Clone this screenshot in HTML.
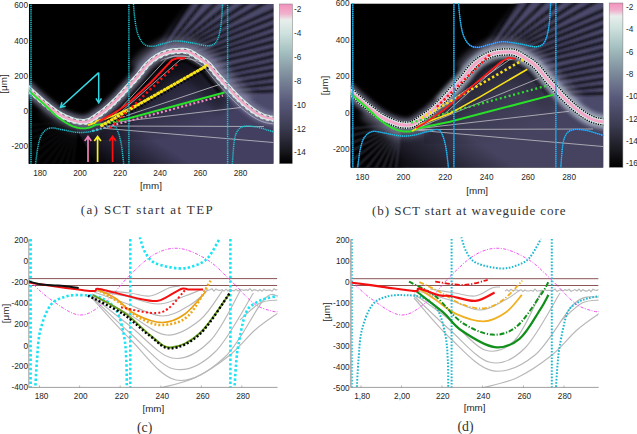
<!DOCTYPE html>
<html><head><meta charset="utf-8">
<style>
html,body{margin:0;padding:0;background:#fff;width:637px;height:434px;overflow:hidden}
svg{display:block}
.t{font-family:"Liberation Sans",sans-serif;font-size:9.8px;fill:#262626}
.cap{font-family:"Liberation Serif",serif;font-size:13px;fill:#333}
</style></head><body>
<svg width="637" height="434" viewBox="0 0 637 434">
<defs>
<filter id="b03" x="-20%" y="-20%" width="140%" height="140%"><feGaussianBlur stdDeviation="0.3"/></filter>
<filter id="b05" x="-20%" y="-20%" width="140%" height="140%"><feGaussianBlur stdDeviation="0.5"/></filter>
<filter id="b07" x="-20%" y="-20%" width="140%" height="140%"><feGaussianBlur stdDeviation="0.7"/></filter>
<filter id="b1" x="-20%" y="-20%" width="140%" height="140%"><feGaussianBlur stdDeviation="0.8"/></filter>
<filter id="b2" x="-20%" y="-20%" width="140%" height="140%"><feGaussianBlur stdDeviation="2"/></filter>
<filter id="b3" x="-20%" y="-20%" width="140%" height="140%"><feGaussianBlur stdDeviation="3"/></filter>
<filter id="b4" x="-20%" y="-20%" width="140%" height="140%"><feGaussianBlur stdDeviation="4"/></filter>
<filter id="b8" x="-50%" y="-50%" width="200%" height="200%"><feGaussianBlur stdDeviation="8"/></filter>
<linearGradient id="cmapA" x1="0" y1="0" x2="0" y2="1">
<stop offset="0" stop-color="#f490bc"/>
<stop offset="0.06" stop-color="#f0b0cc"/>
<stop offset="0.10" stop-color="#e8eeec"/>
<stop offset="0.18" stop-color="#cfe2de"/>
<stop offset="0.30" stop-color="#a4c0c0"/>
<stop offset="0.45" stop-color="#7e8c9c"/>
<stop offset="0.62" stop-color="#58587a"/>
<stop offset="0.78" stop-color="#3a3a50"/>
<stop offset="0.92" stop-color="#18181e"/>
<stop offset="1" stop-color="#000"/>
</linearGradient>
<linearGradient id="cmapB" x1="0" y1="0" x2="0" y2="1">
<stop offset="0" stop-color="#f490bc"/>
<stop offset="0.045" stop-color="#f0b0cc"/>
<stop offset="0.08" stop-color="#e8eeec"/>
<stop offset="0.15" stop-color="#cfe2de"/>
<stop offset="0.27" stop-color="#a4c0c0"/>
<stop offset="0.42" stop-color="#7e8c9c"/>
<stop offset="0.58" stop-color="#58587a"/>
<stop offset="0.75" stop-color="#3a3a50"/>
<stop offset="0.9" stop-color="#18181e"/>
<stop offset="1" stop-color="#000"/>
</linearGradient>
</defs>
<clipPath id="clipA"><rect x="28.8" y="4.0" width="244.7" height="159.8"/></clipPath>
<g clip-path="url(#clipA)">
<clipPath id="fanA"><path d="M140 76 L150 60 L203 -10 L300 -10 L300 121 L285.41 116.52 L284.35 116.4 L282.94 116.25 L281.29 116.08 L279.46 115.88 L277.52 115.67 L275.54 115.44 L273.59 115.19 L271.76 114.93 L270.12 114.66 L268.76 114.38 L267.6 114.1 L266.54 113.81 L265.6 113.51 L264.73 113.2 L263.92 112.87 L263.13 112.52 L262.34 112.14 L261.51 111.72 L260.63 111.25 L259.71 110.74 L258.77 110.21 L257.85 109.65 L256.92 109.06 L255.98 108.43 L255.03 107.76 L254.07 107.07 L253.11 106.35 L252.14 105.61 L251.17 104.85 L250.19 104.07 L249.22 103.29 L248.26 102.48 L247.29 101.65 L246.32 100.8 L245.35 99.93 L244.37 99.04 L243.4 98.13 L242.42 97.2 L241.43 96.26 L240.45 95.3 L239.48 94.34 L238.51 93.35 L237.53 92.34 L236.55 91.3 L235.56 90.25 L234.57 89.18 L233.58 88.11 L232.58 87.02 L231.58 85.93 L230.58 84.84 L229.59 83.75 L228.59 82.66 L227.6 81.56 L226.6 80.45 L225.61 79.34 L224.62 78.23 L223.62 77.11 L222.63 75.98 L221.64 74.84 L220.65 73.72 L219.69 72.58 L218.72 71.4 L217.73 70.17 L216.74 68.92 L215.73 67.66 L214.7 66.39 L213.66 65.15 L212.6 63.94 L211.52 62.77 L210.42 61.67 L209.31 60.66 L208.22 59.73 L207.13 58.87 L206.05 58.07 L204.98 57.32 L203.92 56.61 L202.89 55.94 L201.87 55.3 L200.86 54.67 L199.88 54.05 L198.89 53.42 L197.9 52.77 L196.88 52.12 L195.84 51.46 L194.77 50.82 L193.69 50.2 L192.57 49.61 L191.43 49.06 L190.24 48.57 L189.02 48.15 L187.79 47.82 L186.57 47.58 L185.38 47.42 L184.22 47.32 L183.08 47.28 L181.98 47.27 L180.91 47.29 L179.87 47.32 L178.86 47.36 L177.86 47.4 L176.84 47.44 L175.79 47.5 L174.73 47.57 L173.66 47.67 L172.59 47.78 L171.5 47.92 L170.41 48.09 L169.31 48.3 L168.2 48.54 L167.1 48.82 L166.02 49.12 L164.94 49.45 L163.86 49.81 L162.78 50.2 L161.69 50.62 L160.6 51.07 L159.52 51.56 L158.43 52.09 L157.33 52.66 L156.25 53.27 L155.19 53.89 L154.13 54.55 L153.07 55.23 L152 55.96 L150.93 56.72 L149.85 57.53 L148.78 58.4 L147.7 59.31 L146.62 60.28 L145.53 61.32 L144.43 62.46 L143.35 63.67 L142.29 64.93 L141.25 66.23 L140.23 67.54 Z"/></clipPath>
<clipPath id="lowA"><path d="M10 200 L14.57 77.4 L15.35 78.19 L16.37 79.24 L17.58 80.48 L18.94 81.88 L20.4 83.37 L21.9 84.9 L23.4 86.43 L24.85 87.89 L26.2 89.24 L27.4 90.43 L28.47 91.47 L29.48 92.43 L30.43 93.34 L31.34 94.19 L32.22 95 L33.09 95.8 L33.96 96.58 L34.83 97.36 L35.74 98.17 L36.67 99 L37.65 99.86 L38.63 100.72 L39.63 101.59 L40.64 102.46 L41.65 103.33 L42.67 104.2 L43.69 105.06 L44.71 105.91 L45.73 106.74 L46.75 107.56 L47.75 108.36 L48.75 109.17 L49.76 109.97 L50.77 110.77 L51.78 111.55 L52.8 112.33 L53.83 113.09 L54.86 113.82 L55.9 114.52 L56.94 115.19 L57.98 115.83 L59.01 116.43 L60.05 117.01 L61.08 117.55 L62.11 118.07 L63.15 118.57 L64.18 119.05 L65.2 119.5 L66.23 119.94 L67.25 120.36 L68.27 120.76 L69.29 121.15 L70.32 121.53 L71.36 121.9 L72.4 122.24 L73.45 122.56 L74.51 122.84 L75.57 123.1 L76.65 123.31 L77.72 123.48 L78.76 123.61 L79.8 123.73 L80.85 123.83 L81.92 123.89 L83 123.91 L84.1 123.89 L85.21 123.8 L86.33 123.65 L87.46 123.42 L88.61 123.11 L89.75 122.69 L90.87 122.19 L91.96 121.62 L93.04 121 L94.09 120.34 L95.12 119.65 L96.14 118.94 L97.15 118.23 L98.15 117.53 L99.14 116.84 L100.15 116.14 L101.17 115.42 L102.18 114.68 L103.2 113.93 L104.22 113.15 L105.24 112.36 L106.25 111.55 L107.27 110.73 L108.29 109.88 L109.3 109.02 L110.32 108.13 L111.34 107.23 L112.35 106.3 L113.37 105.36 L114.38 104.4 L115.39 103.43 L116.4 102.44 L117.41 101.44 L118.42 100.42 L119.43 99.39 L120.45 98.34 L121.46 97.26 L122.48 96.16 L123.48 95.05 L124.49 93.93 L125.49 92.8 L126.49 91.68 L127.49 90.56 L128.49 89.44 L129.48 88.34 L130.47 87.26 L131.47 86.18 L132.47 85.1 L133.47 84.02 L134.47 82.93 L135.48 81.84 L136.48 80.73 L137.49 79.61 L138.5 78.47 L139.52 77.3 L140.55 76.08 L141.57 74.8 L142.58 73.51 L143.58 72.2 L144.58 70.91 L145.57 69.64 L146.55 68.42 L147.51 67.27 L148.47 66.19 L149.41 65.22 L150.36 64.31 L151.32 63.45 L152.27 62.64 L153.23 61.88 L154.18 61.16 L155.14 60.47 L156.1 59.82 L157.07 59.2 L158.03 58.6 L159 58.03 L159.95 57.5 L160.9 57 L161.85 56.54 L162.8 56.11 L163.75 55.72 L164.7 55.35 L165.65 55.01 L166.61 54.69 L167.56 54.4 L168.52 54.13 L169.46 53.9 L170.4 53.69 L171.34 53.52 L172.29 53.37 L173.24 53.24 L174.19 53.14 L175.15 53.06 L176.12 52.99 L177.09 52.94 L178.08 52.9 L179.08 52.86 L180.07 52.82 L181.05 52.79 L182.01 52.77 L182.95 52.77 L183.88 52.81 L184.78 52.89 L185.67 53.01 L186.55 53.18 L187.42 53.41 L188.29 53.71 L189.19 54.09 L190.1 54.52 L191.04 55.02 L191.99 55.56 L192.95 56.14 L193.93 56.76 L194.92 57.39 L195.92 58.04 L196.93 58.69 L197.94 59.32 L198.93 59.95 L199.92 60.57 L200.9 61.21 L201.87 61.86 L202.83 62.53 L203.78 63.24 L204.73 63.99 L205.68 64.79 L206.62 65.65 L207.56 66.58 L208.51 67.61 L209.48 68.72 L210.46 69.89 L211.44 71.1 L212.44 72.35 L213.44 73.61 L214.45 74.87 L215.46 76.11 L216.48 77.3 L217.49 78.46 L218.5 79.61 L219.5 80.75 L220.5 81.88 L221.51 83.01 L222.51 84.13 L223.52 85.24 L224.52 86.35 L225.52 87.46 L226.52 88.55 L227.53 89.64 L228.53 90.74 L229.53 91.83 L230.53 92.92 L231.54 94 L232.55 95.08 L233.56 96.14 L234.57 97.19 L235.58 98.22 L236.6 99.23 L237.61 100.21 L238.62 101.18 L239.63 102.14 L240.64 103.08 L241.66 104.01 L242.67 104.92 L243.69 105.81 L244.71 106.68 L245.73 107.53 L246.75 108.36 L247.76 109.17 L248.78 109.96 L249.79 110.74 L250.82 111.5 L251.84 112.24 L252.87 112.96 L253.9 113.66 L254.94 114.32 L255.99 114.95 L257.02 115.55 L258.02 116.09 L258.96 116.59 L259.89 117.07 L260.83 117.52 L261.79 117.94 L262.79 118.34 L263.85 118.72 L264.98 119.08 L266.21 119.42 L267.57 119.75 L269.13 120.07 L270.92 120.37 L272.85 120.64 L274.87 120.9 L276.9 121.14 L278.87 121.35 L280.72 121.55 L282.37 121.72 L283.74 121.86 L284.77 121.99 L300 200 Z"/></clipPath>
<linearGradient id="wedgeA" gradientUnits="userSpaceOnUse" x1="98" y1="168" x2="128" y2="122"><stop offset="0" stop-color="#000" stop-opacity="1"/><stop offset="1" stop-color="#000" stop-opacity="0"/></linearGradient>
<rect x="28.8" y="4.0" width="244.7" height="159.8" fill="#000"/>
<g clip-path="url(#lowA)">
<linearGradient id="archA" gradientUnits="userSpaceOnUse" x1="175" y1="58" x2="205" y2="125"><stop offset="0" stop-color="#000" stop-opacity="0.75"/><stop offset="0.55" stop-color="#000" stop-opacity="0.25"/><stop offset="1" stop-color="#000" stop-opacity="0"/></linearGradient>
<rect x="0" y="60" width="300" height="120" fill="#423f60"/>
<rect x="100" y="40" width="160" height="100" fill="url(#archA)" opacity="1"/>
<path d="M0 90 L60 100 L98 168 L0 175 Z" fill="#000"/>
<rect x="0" y="60" width="300" height="120" fill="url(#wedgeA)"/>
<path d="M77.27 126.96 L64.59 230.18 M76.47 126.8 L49.9 227.35 M75.69 126.54 L35.73 222.55 M74.96 126.18 L22.34 215.88 M74.29 125.72 L9.98 207.44 M73.68 125.17 L-1.13 197.41 M73.16 124.54 L-10.77 185.97 M72.72 123.85 L-18.76 173.32 M72.38 123.11 L-24.97 159.7 M72.15 122.33 L-29.27 145.37 M72.02 121.52 L-31.58 130.59" stroke="#8484a4" stroke-width="1.5" fill="none" opacity="0.13" filter="url(#b1)"/>
<path d="M40.26 111.31 L41.32 112.17 L42.36 113.01 L43.37 113.82 L44.38 114.63 L45.4 115.45 L46.45 116.28 L47.52 117.11 L48.61 117.93 L49.72 118.76 L50.86 119.57 L52.03 120.36 L53.22 121.12 L54.39 121.84 L55.55 122.52 L56.71 123.16 L57.87 123.77 L59.01 124.35 L60.16 124.9 L61.29 125.43 L62.42 125.93 L63.54 126.4 L64.64 126.85 L65.73 127.28 L66.82 127.7 L67.95 128.12 L69.1 128.52 L70.29 128.91 L71.52 129.28 L72.78 129.63 L74.08 129.94 L75.42 130.2 L76.72 130.41 L77.92 130.56 L79.09 130.7 L80.33 130.81 L81.64 130.88 L83.01 130.91 L84.45 130.88 L85.95 130.76 L87.5 130.55 L89.09 130.23 L90.73 129.78 L92.37 129.18 L93.91 128.5 L95.34 127.76 L96.66 126.99 L97.89 126.22 L99.06 125.44 L100.15 124.68 L101.19 123.96 L102.16 123.27 L103.13 122.59 L104.17 121.88 L105.25 121.11 L106.33 120.33 L107.41 119.52 L108.49 118.7 L109.56 117.87 L110.64 117.01 L111.72 116.13 L112.79 115.24 L113.87 114.32 L114.95 113.38 L116.02 112.43 L117.09 111.46 L118.15 110.47 L119.21 109.47 L120.27 108.46 L121.32 107.43 L122.36 106.39 L123.4 105.34 L124.45 104.27 L125.52 103.16 L126.59 102.03 L127.64 100.88 L128.68 99.74 L129.71 98.59 L130.72 97.46 L131.72 96.33 L132.71 95.22 L133.69 94.12 L134.66 93.05 L135.63 91.99 L136.61 90.92 L137.61 89.85 L138.61 88.77 L139.62 87.67" stroke="#8a8aa4" stroke-width="7" fill="none" opacity="0.16" filter="url(#b3)"/>
</g>
<mask id="fmA" maskUnits="userSpaceOnUse" x="0" y="-50" width="400" height="250"><path d="M140 80 L152 55 L205 -14 L300 -14 L300 125 L285.12 119.01 L284.07 118.88 L282.68 118.74 L281.03 118.56 L279.19 118.37 L277.24 118.16 L275.23 117.92 L273.25 117.67 L271.38 117.4 L269.67 117.12 L268.22 116.82 L266.97 116.52 L265.84 116.2 L264.8 115.88 L263.85 115.54 L262.95 115.18 L262.08 114.79 L261.22 114.38 L260.35 113.93 L259.44 113.45 L258.49 112.93 L257.51 112.37 L256.53 111.78 L255.55 111.15 L254.57 110.49 L253.58 109.8 L252.59 109.08 L251.6 108.34 L250.61 107.59 L249.62 106.81 L248.63 106.02 L247.64 105.22 L246.65 104.39 L245.65 103.54 L244.66 102.67 L243.67 101.78 L242.68 100.88 L241.68 99.95 L240.69 99.01 L239.7 98.06 L238.7 97.09 L237.71 96.1 L236.72 95.09 L235.72 94.06 L234.73 93.02 L233.73 91.96 L232.73 90.88 L231.74 89.8 L230.74 88.71 L229.74 87.62 L228.74 86.52 L227.74 85.43 L226.74 84.34 L225.74 83.23 L224.74 82.12 L223.75 81.01 L222.75 79.89 L221.75 78.76 L220.75 77.63 L219.75 76.49 L218.76 75.35 L217.77 74.18 L216.78 72.97 L215.78 71.73 L214.78 70.48 L213.78 69.22 L212.77 67.98 L211.76 66.77 L210.74 65.61 L209.72 64.5 L208.69 63.48 L207.66 62.54 L206.63 61.66 L205.61 60.85 L204.58 60.1 L203.57 59.38 L202.55 58.7 L201.54 58.05 L200.53 57.41 L199.53 56.78 L198.54 56.16 L197.54 55.52 L196.54 54.87 L195.54 54.23 L194.52 53.59 L193.51 52.98 L192.48 52.39 L191.45 51.84 L190.41 51.35 L189.35 50.91 L188.29 50.54 L187.23 50.26 L186.16 50.05 L185.11 49.91 L184.06 49.82 L183.02 49.78 L181.99 49.77 L180.97 49.79 L179.96 49.82 L178.96 49.86 L177.96 49.9 L176.95 49.94 L175.94 50 L174.92 50.07 L173.9 50.15 L172.88 50.26 L171.86 50.4 L170.83 50.56 L169.8 50.75 L168.77 50.97 L167.74 51.23 L166.72 51.52 L165.7 51.83 L164.67 52.17 L163.65 52.54 L162.63 52.93 L161.6 53.36 L160.58 53.83 L159.55 54.32 L158.52 54.86 L157.5 55.43 L156.48 56.04 L155.47 56.66 L154.45 57.32 L153.43 58.01 L152.41 58.74 L151.39 59.51 L150.36 60.33 L149.34 61.19 L148.32 62.11 L147.29 63.09 L146.27 64.16 L145.24 65.31 L144.23 66.52 L143.22 67.78 L142.21 69.07 L141.21 70.37 L140.21 71.67 Z" fill="#fff" filter="url(#b3)"/></mask>
<g mask="url(#fmA)">
<rect x="100" y="-20" width="200" height="160" fill="#4c4a6a"/>
<path d="M157.92 53.11 L208.9 -30.11 M164.23 50.51 L225.81 -27.38 M168.42 49.22 L243.7 -23.86 M173.62 48.42 L261.42 -20.76 M178.62 47.95 L279.5 -17.85 M183.32 48.04 L298.01 -15.35 M187.12 48.8 L310.52 -6.31 M191.82 51.02 L311.12 3.09 M196.93 54.15 L311.57 12.28 M200.93 56.54 L312.22 22.21 M205.3 59.59 L312.68 31.32 M209.82 63.83 L312.97 39.99 M215.02 70.17 L312.89 46.66 M218.85 74.69 L313.13 54.71 M222.79 79.04 L313.39 63.05 M227.74 84.46 L313.49 70.63 M231.69 88.6 L313.77 79.68 M235.58 92.45 L313.97 89.49" stroke="#14141e" stroke-width="2.8" fill="none" opacity="1" filter="url(#b1)"/>
</g>
<path d="M110.47 125.97 L111.61 125.12 L112.75 124.25 L113.89 123.37 L115.03 122.46 L116.16 121.54 L117.3 120.59 L118.44 119.63 L119.57 118.64 L120.7 117.63 L121.83 116.61 L122.94 115.58 L124.04 114.54 L125.14 113.48 L126.23 112.42 L127.31 111.34 L128.38 110.26 L129.47 109.15 L130.6 107.98 L131.72 106.79 L132.81 105.61 L133.88 104.43 L134.93 103.26 L135.95 102.11 L136.95 100.98 L137.94 99.88 L138.9 98.81 L139.84 97.76 L140.79 96.72 L141.76 95.67 L142.74 94.6 L143.75 93.52 L144.77 92.42 L145.81 91.28 L146.86 90.13 L147.93 88.93 L149.02 87.71 L150.17 86.39 L151.37 84.95 L152.55 83.49 L153.65 82.08 L154.68 80.74 L155.65 79.48 L156.55 78.32 L157.38 77.29 L158.11 76.41 L158.74 75.71 L159.29 75.14 L159.88 74.57 L160.53 74 L161.17 73.45 L161.82 72.93 L162.47 72.44 L163.14 71.96 L163.82 71.5 L164.53 71.04 L165.27 70.59 L165.98 70.17 L166.62 69.81 L167.2 69.51 L167.79 69.22 L168.38 68.95 L168.98 68.7 L169.59 68.47 L170.21 68.25 L170.85 68.03 L171.5 67.83 L172.12 67.66 L172.66 67.52 L173.17 67.41 L173.71 67.31 L174.28 67.22 L174.89 67.14 L175.55 67.07 L176.24 67.01 L176.97 66.96 L177.75 66.92 L178.64 66.89 L179.64 66.85 L180.6 66.81 L181.42 66.78 L182.09 66.77 L182.62 66.77 L183 66.78 L183.25 66.8 L183.37 66.82 L183.38 66.82 L183.33 66.8 L183.32 66.8 L183.48 66.87 L183.81 67.03 L184.28 67.28 L184.89 67.63 L185.6 68.06 L186.42 68.58 L187.34 69.16 L188.34 69.81 L189.42 70.5 L190.48 71.18 L191.47 71.8 L192.38 72.37 L193.2 72.9 L193.96 73.41 L194.64 73.89 L195.27 74.35 L195.86 74.82 L196.42 75.29 L196.95 75.77 L197.48 76.3 L198.1 76.97 L198.83 77.81 L199.65 78.79 L200.54 79.88 L201.49 81.08 L202.5 82.35 L203.58 83.69 L204.72 85.08 L205.87 86.44 L206.95 87.68 L207.98 88.85 L209.01 90.02 L210.04 91.18 L211.06 92.33 L212.09 93.48 L213.12 94.62 L214.15 95.76 L215.18 96.89 L216.2 98 L217.2 99.1 L218.2 100.19 L219.22 101.3 L220.25 102.42 L221.3 103.55 L222.36 104.69 L223.45 105.82 L224.54 106.96" stroke="#000" stroke-width="18" fill="none" opacity="0.35" filter="url(#b4)"/>
<path d="M105.44 119.12 L106.51 118.32 L107.57 117.51 L108.64 116.69 L109.7 115.84 L110.76 114.97 L111.83 114.09 L112.89 113.19 L113.96 112.26 L115.02 111.31 L116.07 110.35 L117.13 109.38 L118.18 108.38 L119.22 107.38 L120.26 106.36 L121.3 105.33 L122.34 104.29 L123.38 103.23 L124.44 102.13 L125.49 101 L126.54 99.87 L127.57 98.73 L128.59 97.59 L129.6 96.46 L130.6 95.33 L131.6 94.22 L132.58 93.12 L133.55 92.04 L134.53 90.97 L135.51 89.91 L136.51 88.83 L137.51 87.75 L138.52 86.66 L139.53 85.55 L140.56 84.42 L141.59 83.27 L142.63 82.1 L143.7 80.87 L144.8 79.56 L145.88 78.22 L146.93 76.87 L147.94 75.55 L148.93 74.27 L149.88 73.05 L150.8 71.91 L151.68 70.86 L152.5 69.93 L153.29 69.12 L154.1 68.34 L154.93 67.59 L155.77 66.89 L156.6 66.22 L157.44 65.59 L158.28 64.99 L159.14 64.41 L160 63.85 L160.88 63.31 L161.74 62.8 L162.57 62.34 L163.37 61.92 L164.18 61.52 L164.99 61.16 L165.8 60.82 L166.62 60.5 L167.44 60.21 L168.27 59.93 L169.11 59.68 L169.93 59.45 L170.71 59.25 L171.48 59.08 L172.27 58.94 L173.07 58.81 L173.89 58.7 L174.72 58.61 L175.58 58.54 L176.46 58.48 L177.35 58.43 L178.3 58.39 L179.3 58.36 L180.28 58.31 L181.19 58.28 L182.04 58.27 L182.82 58.27 L183.53 58.3 L184.18 58.36 L184.77 58.43 L185.31 58.54 L185.81 58.67 L186.34 58.86 L186.94 59.11 L187.63 59.44 L188.38 59.84 L189.2 60.3 L190.06 60.83 L190.98 61.4 L191.94 62.02 L192.94 62.67 L193.98 63.33 L195.01 63.98 L196 64.6 L196.96 65.21 L197.88 65.8 L198.76 66.39 L199.61 66.99 L200.44 67.6 L201.25 68.24 L202.04 68.91 L202.82 69.62 L203.6 70.4 L204.42 71.29 L205.3 72.29 L206.21 73.38 L207.16 74.55 L208.14 75.78 L209.14 77.04 L210.18 78.33 L211.24 79.63 L212.32 80.89 L213.35 82.08 L214.37 83.24 L215.38 84.39 L216.39 85.53 L217.41 86.67 L218.42 87.8 L219.43 88.93 L220.45 90.05 L221.46 91.16" stroke="#000" stroke-width="7" fill="none" opacity="0.95" filter="url(#b1)"/>
<path d="M135.47 67.99 L136.45 66.71 L137.47 65.39 L138.51 64.06 L139.59 62.72 L140.7 61.38 L141.87 60.08 L143.06 58.84 L144.24 57.71 L145.4 56.67 L146.55 55.69 L147.71 54.77 L148.86 53.9 L150 53.08 L151.14 52.31 L152.27 51.59 L153.38 50.9 L154.51 50.23 L155.67 49.58 L156.85 48.97 L158.03 48.39 L159.21 47.86 L160.38 47.37 L161.56 46.92 L162.72 46.5 L163.88 46.12 L165.03 45.76 L166.2 45.44 L167.4 45.13 L168.61 44.87 L169.82 44.65 L171 44.46 L172.17 44.31 L173.32 44.18 L174.46 44.08 L175.57 44.01 L176.67 43.95 L177.72 43.91 L178.72 43.87 L179.74 43.82 L180.82 43.79 L181.96 43.77 L183.17 43.78 L184.44 43.83 L185.77 43.94 L187.15 44.13 L188.58 44.41 L190.04 44.81 L191.48 45.3 L192.85 45.87 L194.15 46.48 L195.38 47.13 L196.55 47.8 L197.67 48.48 L198.75 49.16 L199.79 49.83 L200.79 50.47 L201.76 51.09 L202.73 51.7 L203.73 52.33 L204.77 52.99 L205.85 53.69 L206.96 54.43 L208.09 55.23 L209.26 56.09 L210.43 57.02 L211.63 58.03 L212.83 59.14 L214.04 60.34 L215.21 61.59 L216.32 62.88 L217.4 64.17 L218.45 65.46 L219.47 66.74 L220.47 67.99 L221.44 69.19 L222.37 70.34 L223.31 71.43 L224.27 72.54 L225.26 73.67 L226.25 74.79 L227.23 75.9 L228.22 77.01 L229.21 78.12 L230.2 79.21 L231.18 80.3 L232.17 81.39 L233.16 82.47 L234.16 83.56 L235.16 84.66 L236.15 85.74 L237.14 86.81 L238.12 87.86 L239.09 88.9 L240.06 89.91 L241.01 90.9 L241.96 91.87 L242.91 92.81 L243.87 93.74 L244.83 94.67 L245.79 95.58 L246.75 96.47 L247.7 97.33 L248.64 98.18 L249.58 99.01" stroke="#8c8cac" stroke-width="12" fill="none" opacity="0.45" filter="url(#b3)"/>
<path d="M16 76 L16.78 76.79 L17.8 77.84 L19.01 79.09 L20.37 80.48 L21.83 81.97 L23.32 83.5 L24.82 85.02 L26.27 86.48 L27.61 87.82 L28.8 89 L29.86 90.03 L30.86 90.99 L31.8 91.88 L32.7 92.72 L33.57 93.53 L34.44 94.32 L35.29 95.09 L36.17 95.87 L37.06 96.67 L38 97.5 L38.97 98.35 L39.95 99.22 L40.94 100.08 L41.94 100.95 L42.95 101.81 L43.96 102.67 L44.97 103.52 L45.99 104.36 L47 105.19 L48 106 L49 106.8 L50 107.6 L51 108.4 L52 109.19 L53 109.97 L54 110.73 L55 111.47 L56 112.18 L57 112.86 L58 113.5 L59 114.11 L60 114.69 L61 115.25 L62 115.78 L63 116.28 L64 116.76 L65 117.23 L66 117.67 L67 118.09 L68 118.5 L69 118.9 L70 119.28 L71 119.65 L72 120 L73 120.33 L74 120.63 L75 120.91 L76 121.14 L77 121.34 L78 121.5 L79 121.63 L80 121.74 L81 121.83 L82 121.89 L83 121.91 L84 121.89 L85 121.81 L86 121.68 L87 121.48 L88 121.2 L89 120.84 L90 120.39 L91 119.87 L92 119.29 L93 118.66 L94 118 L95 117.3 L96 116.6 L97 115.89 L98 115.2 L99 114.51 L100 113.8 L101 113.07 L102 112.33 L103 111.57 L104 110.79 L105 110 L106 109.18 L107 108.35 L108 107.5 L109 106.63 L110 105.74 L111 104.83 L112 103.9 L113 102.96 L114 101.99 L115 101.02 L116 100.02 L117 99.02 L118 98 L119 96.96 L120 95.9 L121 94.81 L122 93.71 L123 92.59 L124 91.47 L125 90.35 L126 89.22 L127 88.11 L128 87 L129 85.91 L130 84.82 L131 83.74 L132 82.66 L133 81.58 L134 80.49 L135 79.39 L136 78.28 L137 77.15 L138 76 L139 74.81 L140 73.56 L141 72.28 L142 70.98 L143 69.68 L144 68.4 L145 67.15 L146 65.96 L147 64.84 L148 63.8 L149 62.84 L150 61.94 L151 61.1 L152 60.3 L153 59.54 L154 58.83 L155 58.15 L156 57.51 L157 56.89 L158 56.3 L159 55.74 L160 55.22 L161 54.73 L162 54.28 L163 53.86 L164 53.48 L165 53.12 L166 52.79 L167 52.48 L168 52.2 L169 51.95 L170 51.73 L171 51.54 L172 51.39 L173 51.26 L174 51.15 L175 51.06 L176 50.99 L177 50.94 L178 50.9 L179 50.86 L180 50.82 L181 50.79 L182 50.77 L183 50.77 L184 50.82 L185 50.9 L186 51.04 L187 51.23 L188 51.5 L189 51.84 L190 52.26 L191 52.74 L192 53.27 L193 53.84 L194 54.44 L195 55.07 L196 55.71 L197 56.36 L198 57 L199 57.63 L200 58.26 L201 58.89 L202 59.54 L203 60.21 L204 60.91 L205 61.65 L206 62.44 L207 63.29 L208 64.2 L209 65.2 L210 66.28 L211 67.42 L212 68.62 L213 69.85 L214 71.1 L215 72.36 L216 73.6 L217 74.82 L218 76 L219 77.15 L220 78.29 L221 79.42 L222 80.55 L223 81.67 L224 82.79 L225 83.9 L226 85.01 L227 86.11 L228 87.2 L229 88.29 L230 89.38 L231 90.47 L232 91.56 L233 92.64 L234 93.7 L235 94.76 L236 95.79 L237 96.81 L238 97.8 L239 98.77 L240 99.73 L241 100.68 L242 101.61 L243 102.52 L244 103.42 L245 104.3 L246 105.15 L247 105.99 L248 106.8 L249 107.59 L250 108.38 L251 109.14 L252 109.89 L253 110.61 L254 111.31 L255 111.98 L256 112.62 L257 113.23 L258 113.8 L258.97 114.33 L259.89 114.82 L260.78 115.28 L261.66 115.7 L262.56 116.1 L263.5 116.47 L264.49 116.83 L265.55 117.16 L266.72 117.49 L268 117.8 L269.49 118.1 L271.22 118.39 L273.12 118.66 L275.11 118.92 L277.12 119.15 L279.09 119.36 L280.93 119.56 L282.58 119.73 L283.96 119.88 L285 120" stroke="#9c9cc0" stroke-width="13" fill="none" opacity="0.6" filter="url(#b2)"/>
<path d="M16 76 L16.78 76.79 L17.8 77.84 L19.01 79.09 L20.37 80.48 L21.83 81.97 L23.32 83.5 L24.82 85.02 L26.27 86.48 L27.61 87.82 L28.8 89 L29.86 90.03 L30.86 90.99 L31.8 91.88 L32.7 92.72 L33.57 93.53 L34.44 94.32 L35.29 95.09 L36.17 95.87 L37.06 96.67 L38 97.5 L38.97 98.35 L39.95 99.22 L40.94 100.08 L41.94 100.95 L42.95 101.81 L43.96 102.67 L44.97 103.52 L45.99 104.36 L47 105.19 L48 106 L49 106.8 L50 107.6 L51 108.4 L52 109.19 L53 109.97 L54 110.73 L55 111.47 L56 112.18 L57 112.86 L58 113.5 L59 114.11 L60 114.69 L61 115.25 L62 115.78 L63 116.28 L64 116.76 L65 117.23 L66 117.67 L67 118.09 L68 118.5 L69 118.9 L70 119.28 L71 119.65 L72 120 L73 120.33 L74 120.63 L75 120.91 L76 121.14 L77 121.34 L78 121.5 L79 121.63 L80 121.74 L81 121.83 L82 121.89 L83 121.91 L84 121.89 L85 121.81 L86 121.68 L87 121.48 L88 121.2 L89 120.84 L90 120.39 L91 119.87 L92 119.29 L93 118.66 L94 118 L95 117.3 L96 116.6 L97 115.89 L98 115.2 L99 114.51 L100 113.8 L101 113.07 L102 112.33 L103 111.57 L104 110.79 L105 110 L106 109.18 L107 108.35 L108 107.5 L109 106.63 L110 105.74 L111 104.83 L112 103.9 L113 102.96 L114 101.99 L115 101.02 L116 100.02 L117 99.02 L118 98 L119 96.96 L120 95.9 L121 94.81 L122 93.71 L123 92.59 L124 91.47 L125 90.35 L126 89.22 L127 88.11 L128 87 L129 85.91 L130 84.82 L131 83.74 L132 82.66 L133 81.58 L134 80.49 L135 79.39 L136 78.28 L137 77.15 L138 76 L139 74.81 L140 73.56 L141 72.28 L142 70.98 L143 69.68 L144 68.4 L145 67.15 L146 65.96 L147 64.84 L148 63.8 L149 62.84 L150 61.94 L151 61.1 L152 60.3 L153 59.54 L154 58.83 L155 58.15 L156 57.51 L157 56.89 L158 56.3 L159 55.74 L160 55.22 L161 54.73 L162 54.28 L163 53.86 L164 53.48 L165 53.12 L166 52.79 L167 52.48 L168 52.2 L169 51.95 L170 51.73 L171 51.54 L172 51.39 L173 51.26 L174 51.15 L175 51.06 L176 50.99 L177 50.94 L178 50.9 L179 50.86 L180 50.82 L181 50.79 L182 50.77 L183 50.77 L184 50.82 L185 50.9 L186 51.04 L187 51.23 L188 51.5 L189 51.84 L190 52.26 L191 52.74 L192 53.27 L193 53.84 L194 54.44 L195 55.07 L196 55.71 L197 56.36 L198 57 L199 57.63 L200 58.26 L201 58.89 L202 59.54 L203 60.21 L204 60.91 L205 61.65 L206 62.44 L207 63.29 L208 64.2 L209 65.2 L210 66.28 L211 67.42 L212 68.62 L213 69.85 L214 71.1 L215 72.36 L216 73.6 L217 74.82 L218 76 L219 77.15 L220 78.29 L221 79.42 L222 80.55 L223 81.67 L224 82.79 L225 83.9 L226 85.01 L227 86.11 L228 87.2 L229 88.29 L230 89.38 L231 90.47 L232 91.56 L233 92.64 L234 93.7 L235 94.76 L236 95.79 L237 96.81 L238 97.8 L239 98.77 L240 99.73 L241 100.68 L242 101.61 L243 102.52 L244 103.42 L245 104.3 L246 105.15 L247 105.99 L248 106.8 L249 107.59 L250 108.38 L251 109.14 L252 109.89 L253 110.61 L254 111.31 L255 111.98 L256 112.62 L257 113.23 L258 113.8 L258.97 114.33 L259.89 114.82 L260.78 115.28 L261.66 115.7 L262.56 116.1 L263.5 116.47 L264.49 116.83 L265.55 117.16 L266.72 117.49 L268 117.8 L269.49 118.1 L271.22 118.39 L273.12 118.66 L275.11 118.92 L277.12 119.15 L279.09 119.36 L280.93 119.56 L282.58 119.73 L283.96 119.88 L285 120" stroke="#d8ece8" stroke-width="6" fill="none" filter="url(#b05)"/>
<path d="M16 76 L16.78 76.79 L17.8 77.84 L19.01 79.09 L20.37 80.48 L21.83 81.97 L23.32 83.5 L24.82 85.02 L26.27 86.48 L27.61 87.82 L28.8 89 L29.86 90.03 L30.86 90.99 L31.8 91.88 L32.7 92.72 L33.57 93.53 L34.44 94.32 L35.29 95.09 L36.17 95.87 L37.06 96.67 L38 97.5 L38.97 98.35 L39.95 99.22 L40.94 100.08 L41.94 100.95 L42.95 101.81 L43.96 102.67 L44.97 103.52 L45.99 104.36 L47 105.19 L48 106 L49 106.8 L50 107.6 L51 108.4 L52 109.19 L53 109.97 L54 110.73 L55 111.47 L56 112.18 L57 112.86 L58 113.5 L59 114.11 L60 114.69 L61 115.25 L62 115.78 L63 116.28 L64 116.76 L65 117.23 L66 117.67 L67 118.09 L68 118.5 L69 118.9 L70 119.28 L71 119.65 L72 120 L73 120.33 L74 120.63 L75 120.91 L76 121.14 L77 121.34 L78 121.5 L79 121.63 L80 121.74 L81 121.83 L82 121.89 L83 121.91 L84 121.89 L85 121.81 L86 121.68 L87 121.48 L88 121.2 L89 120.84 L90 120.39 L91 119.87 L92 119.29 L93 118.66 L94 118 L95 117.3 L96 116.6 L97 115.89 L98 115.2 L99 114.51 L100 113.8 L101 113.07 L102 112.33 L103 111.57 L104 110.79 L105 110 L106 109.18 L107 108.35 L108 107.5 L109 106.63 L110 105.74 L111 104.83 L112 103.9 L113 102.96 L114 101.99 L115 101.02 L116 100.02 L117 99.02 L118 98 L119 96.96 L120 95.9 L121 94.81 L122 93.71 L123 92.59 L124 91.47 L125 90.35 L126 89.22 L127 88.11 L128 87 L129 85.91 L130 84.82 L131 83.74 L132 82.66 L133 81.58 L134 80.49 L135 79.39 L136 78.28 L137 77.15 L138 76 L139 74.81 L140 73.56 L141 72.28 L142 70.98 L143 69.68 L144 68.4 L145 67.15 L146 65.96 L147 64.84 L148 63.8 L149 62.84 L150 61.94 L151 61.1 L152 60.3 L153 59.54 L154 58.83 L155 58.15 L156 57.51 L157 56.89 L158 56.3 L159 55.74 L160 55.22 L161 54.73 L162 54.28 L163 53.86 L164 53.48 L165 53.12 L166 52.79 L167 52.48 L168 52.2 L169 51.95 L170 51.73 L171 51.54 L172 51.39 L173 51.26 L174 51.15 L175 51.06 L176 50.99 L177 50.94 L178 50.9 L179 50.86 L180 50.82 L181 50.79 L182 50.77 L183 50.77 L184 50.82 L185 50.9 L186 51.04 L187 51.23 L188 51.5 L189 51.84 L190 52.26 L191 52.74 L192 53.27 L193 53.84 L194 54.44 L195 55.07 L196 55.71 L197 56.36 L198 57 L199 57.63 L200 58.26 L201 58.89 L202 59.54 L203 60.21 L204 60.91 L205 61.65 L206 62.44 L207 63.29 L208 64.2 L209 65.2 L210 66.28 L211 67.42 L212 68.62 L213 69.85 L214 71.1 L215 72.36 L216 73.6 L217 74.82 L218 76 L219 77.15 L220 78.29 L221 79.42 L222 80.55 L223 81.67 L224 82.79 L225 83.9 L226 85.01 L227 86.11 L228 87.2 L229 88.29 L230 89.38 L231 90.47 L232 91.56 L233 92.64 L234 93.7 L235 94.76 L236 95.79 L237 96.81 L238 97.8 L239 98.77 L240 99.73 L241 100.68 L242 101.61 L243 102.52 L244 103.42 L245 104.3 L246 105.15 L247 105.99 L248 106.8 L249 107.59 L250 108.38 L251 109.14 L252 109.89 L253 110.61 L254 111.31 L255 111.98 L256 112.62 L257 113.23 L258 113.8 L258.97 114.33 L259.89 114.82 L260.78 115.28 L261.66 115.7 L262.56 116.1 L263.5 116.47 L264.49 116.83 L265.55 117.16 L266.72 117.49 L268 117.8 L269.49 118.1 L271.22 118.39 L273.12 118.66 L275.11 118.92 L277.12 119.15 L279.09 119.36 L280.93 119.56 L282.58 119.73 L283.96 119.88 L285 120" stroke="#f2a8c8" stroke-width="2.5" fill="none" filter="url(#b03)"/>
<path d="M17.07 74.95 L17.85 75.75 L18.87 76.79 L20.09 78.04 L21.44 79.43 L22.9 80.92 L24.4 82.45 L25.89 83.97 L27.33 85.42 L28.67 86.76 L29.85 87.93 L30.9 88.95 L31.89 89.9 L32.83 90.79 L33.72 91.63 L34.59 92.43 L35.44 93.21 L36.3 93.98 L37.17 94.75 L38.06 95.55 L38.99 96.38 L39.96 97.23 L40.94 98.09 L41.92 98.95 L42.92 99.81 L43.92 100.67 L44.93 101.53 L45.94 102.37 L46.94 103.21 L47.94 104.03 L48.94 104.83 L49.94 105.63 L50.94 106.43 L51.93 107.23 L52.92 108.01 L53.91 108.78 L54.9 109.53 L55.88 110.25 L56.86 110.94 L57.83 111.6 L58.8 112.23 L59.77 112.82 L60.74 113.39 L61.71 113.93 L62.69 114.44 L63.66 114.94 L64.64 115.41 L65.62 115.86 L66.6 116.29 L67.58 116.71 L68.56 117.11 L69.55 117.5 L70.53 117.88 L71.51 118.24 L72.48 118.58 L73.45 118.9 L74.41 119.19 L75.37 119.45 L76.32 119.68 L77.26 119.87 L78.21 120.02 L79.18 120.14 L80.15 120.25 L81.11 120.34 L82.06 120.39 L83 120.41 L83.93 120.39 L84.84 120.32 L85.75 120.2 L86.65 120.02 L87.54 119.77 L88.44 119.45 L89.35 119.04 L90.28 118.56 L91.22 118.01 L92.18 117.4 L93.16 116.76 L94.14 116.07 L95.14 115.37 L96.14 114.67 L97.14 113.97 L98.14 113.28 L99.13 112.58 L100.11 111.86 L101.1 111.13 L102.09 110.38 L103.07 109.61 L104.06 108.83 L105.05 108.02 L106.03 107.2 L107.02 106.36 L108.01 105.5 L109 104.62 L109.99 103.72 L110.97 102.81 L111.96 101.87 L112.96 100.92 L113.95 99.95 L114.94 98.96 L115.93 97.96 L116.92 96.95 L117.91 95.93 L118.9 94.87 L119.89 93.8 L120.89 92.7 L121.88 91.59 L122.88 90.47 L123.88 89.35 L124.88 88.23 L125.88 87.1 L126.89 85.99 L127.89 84.89 L128.9 83.8 L129.9 82.72 L130.9 81.64 L131.9 80.56 L132.89 79.47 L133.89 78.38 L134.88 77.28 L135.87 76.16 L136.86 75.03 L137.84 73.86 L138.82 72.63 L139.81 71.36 L140.81 70.07 L141.81 68.76 L142.82 67.47 L143.84 66.2 L144.86 64.98 L145.9 63.82 L146.94 62.74 L147.98 61.74 L149.01 60.82 L150.05 59.94 L151.08 59.11 L152.11 58.33 L153.14 57.6 L154.17 56.9 L155.2 56.24 L156.22 55.61 L157.25 55 L158.29 54.42 L159.33 53.88 L160.36 53.37 L161.4 52.91 L162.44 52.47 L163.48 52.07 L164.51 51.7 L165.55 51.36 L166.58 51.04 L167.61 50.75 L168.66 50.49 L169.7 50.26 L170.75 50.07 L171.79 49.9 L172.82 49.77 L173.86 49.66 L174.88 49.57 L175.91 49.5 L176.93 49.44 L177.94 49.4 L178.94 49.36 L179.94 49.32 L180.96 49.29 L181.99 49.27 L183.04 49.28 L184.09 49.32 L185.16 49.41 L186.25 49.56 L187.34 49.77 L188.44 50.07 L189.53 50.44 L190.61 50.89 L191.67 51.4 L192.72 51.95 L193.76 52.54 L194.79 53.17 L195.8 53.8 L196.81 54.45 L197.81 55.1 L198.8 55.73 L199.8 56.36 L200.8 56.99 L201.81 57.63 L202.82 58.28 L203.85 58.97 L204.88 59.69 L205.91 60.46 L206.95 61.28 L207.99 62.16 L209.04 63.12 L210.08 64.16 L211.12 65.27 L212.14 66.45 L213.16 67.66 L214.17 68.91 L215.17 70.17 L216.17 71.42 L217.16 72.66 L218.15 73.86 L219.14 75.02 L220.13 76.16 L221.13 77.3 L222.12 78.43 L223.12 79.56 L224.12 80.68 L225.12 81.79 L226.11 82.9 L227.11 84 L228.11 85.1 L229.11 86.19 L230.11 87.28 L231.11 88.37 L232.1 89.46 L233.1 90.54 L234.1 91.61 L235.09 92.67 L236.08 93.72 L237.07 94.74 L238.06 95.75 L239.05 96.73 L240.04 97.7 L241.04 98.65 L242.03 99.59 L243.02 100.51 L244.01 101.41 L244.99 102.3 L245.98 103.16 L246.97 104.01 L247.95 104.83 L248.94 105.63 L249.93 106.42 L250.92 107.19 L251.9 107.94 L252.89 108.68 L253.87 109.39 L254.85 110.07 L255.82 110.73 L256.79 111.35 L257.76 111.94 L258.73 112.49 L259.68 113.01 L260.58 113.49 L261.45 113.93 L262.29 114.34 L263.14 114.72 L264.03 115.07 L264.96 115.4 L265.98 115.72 L267.09 116.03 L268.33 116.34 L269.76 116.63 L271.45 116.91 L273.32 117.18 L275.29 117.43 L277.29 117.66 L279.25 117.87 L281.09 118.07 L282.73 118.24 L284.12 118.39 L285.18 118.51" stroke="#404048" stroke-width="0.9" stroke-dasharray="2.6 3.4" fill="none" opacity="0.85"/>
<path d="M14 77.96 L14.78 78.75 L15.79 79.79 L17.01 81.04 L18.37 82.44 L19.82 83.93 L21.33 85.46 L22.83 86.99 L24.28 88.45 L25.63 89.81 L26.84 91 L27.92 92.05 L28.92 93.01 L29.88 93.92 L30.79 94.77 L31.68 95.59 L32.55 96.39 L33.42 97.17 L34.3 97.96 L35.2 98.76 L36.14 99.6 L37.12 100.46 L38.1 101.32 L39.1 102.2 L40.11 103.07 L41.13 103.94 L42.15 104.81 L43.18 105.67 L44.21 106.52 L45.23 107.36 L46.25 108.18 L47.25 108.99 L48.25 109.79 L49.26 110.6 L50.27 111.4 L51.29 112.19 L52.32 112.97 L53.36 113.73 L54.4 114.47 L55.45 115.19 L56.51 115.87 L57.57 116.52 L58.62 117.13 L59.67 117.71 L60.71 118.26 L61.76 118.79 L62.8 119.3 L63.85 119.78 L64.89 120.24 L65.92 120.68 L66.96 121.1 L67.98 121.5 L69.01 121.9 L70.05 122.28 L71.1 122.65 L72.16 123 L73.23 123.32 L74.31 123.62 L75.4 123.88 L76.51 124.1 L77.6 124.27 L78.66 124.41 L79.72 124.53 L80.79 124.62 L81.89 124.69 L83 124.71 L84.14 124.69 L85.29 124.6 L86.47 124.44 L87.65 124.2 L88.85 123.87 L90.05 123.43 L91.22 122.91 L92.35 122.33 L93.45 121.69 L94.52 121.01 L95.57 120.31 L96.6 119.6 L97.61 118.89 L98.61 118.19 L99.6 117.5 L100.61 116.8 L101.63 116.07 L102.66 115.33 L103.68 114.57 L104.71 113.79 L105.73 112.99 L106.75 112.18 L107.78 111.34 L108.8 110.49 L109.83 109.62 L110.85 108.73 L111.87 107.82 L112.89 106.89 L113.91 105.95 L114.93 104.98 L115.95 104 L116.96 103.01 L117.98 102.01 L118.99 100.99 L120.01 99.95 L121.03 98.89 L122.05 97.8 L123.07 96.7 L124.08 95.58 L125.09 94.46 L126.09 93.33 L127.09 92.21 L128.09 91.09 L129.08 89.98 L130.07 88.88 L131.06 87.8 L132.06 86.72 L133.06 85.64 L134.06 84.56 L135.06 83.47 L136.07 82.38 L137.08 81.27 L138.09 80.14 L139.1 79 L140.13 77.82 L141.16 76.58 L142.2 75.3 L143.21 74 L144.22 72.69 L145.21 71.4 L146.2 70.14 L147.17 68.93 L148.12 67.79 L149.05 66.74 L149.98 65.78 L150.9 64.9 L151.84 64.05 L152.78 63.26 L153.72 62.51 L154.66 61.8 L155.6 61.13 L156.54 60.49 L157.49 59.88 L158.45 59.29 L159.4 58.73 L160.33 58.2 L161.26 57.72 L162.19 57.27 L163.12 56.85 L164.05 56.46 L164.98 56.1 L165.91 55.76 L166.85 55.45 L167.79 55.17 L168.72 54.91 L169.64 54.67 L170.55 54.48 L171.47 54.3 L172.4 54.16 L173.33 54.04 L174.27 53.94 L175.22 53.85 L176.17 53.79 L177.13 53.74 L178.11 53.7 L179.11 53.66 L180.1 53.62 L181.07 53.59 L182.02 53.57 L182.93 53.57 L183.83 53.61 L184.69 53.68 L185.54 53.8 L186.37 53.96 L187.18 54.18 L188.01 54.46 L188.86 54.82 L189.74 55.24 L190.65 55.72 L191.58 56.25 L192.53 56.83 L193.5 57.43 L194.48 58.07 L195.48 58.71 L196.5 59.36 L197.51 60 L198.51 60.63 L199.49 61.25 L200.46 61.88 L201.42 62.52 L202.36 63.18 L203.3 63.87 L204.23 64.6 L205.15 65.39 L206.07 66.22 L206.98 67.14 L207.92 68.15 L208.87 69.24 L209.84 70.4 L210.82 71.61 L211.81 72.85 L212.81 74.11 L213.83 75.37 L214.85 76.62 L215.88 77.83 L216.89 78.99 L217.9 80.14 L218.9 81.28 L219.91 82.41 L220.91 83.54 L221.92 84.66 L222.92 85.78 L223.93 86.89 L224.93 87.99 L225.93 89.09 L226.94 90.18 L227.94 91.28 L228.94 92.37 L229.94 93.46 L230.95 94.55 L231.96 95.63 L232.98 96.69 L234 97.75 L235.02 98.78 L236.04 99.8 L237.05 100.79 L238.07 101.76 L239.08 102.72 L240.1 103.67 L241.12 104.6 L242.14 105.52 L243.17 106.41 L244.19 107.29 L245.22 108.15 L246.25 108.98 L247.27 109.79 L248.29 110.59 L249.31 111.38 L250.34 112.14 L251.38 112.89 L252.42 113.62 L253.46 114.32 L254.52 115 L255.58 115.64 L256.63 116.24 L257.64 116.79 L258.59 117.3 L259.53 117.79 L260.49 118.24 L261.48 118.68 L262.51 119.09 L263.6 119.48 L264.76 119.85 L266.01 120.2 L267.39 120.53 L268.99 120.86 L270.8 121.16 L272.75 121.44 L274.77 121.69 L276.81 121.93 L278.79 122.15 L280.64 122.34 L282.28 122.51 L283.65 122.66 L284.67 122.78" stroke="#404048" stroke-width="0.9" stroke-dasharray="2.6 3.4" fill="none" opacity="0.85"/>
<path d="M160.59 60.81 L161.48 60.31 L162.34 59.86 L163.21 59.44 L164.07 59.05 L164.94 58.69 L165.82 58.35 L166.69 58.03 L167.58 57.74 L168.46 57.47 L169.34 57.22 L170.19 57.01 L171.03 56.83 L171.88 56.67 L172.74 56.53 L173.62 56.42 L174.5 56.32 L175.4 56.25 L176.32 56.18 L177.24 56.13 L178.21 56.1 L179.21 56.06 L180.19 56.02 L181.14 55.98 L182.03 55.97 L182.88 55.97 L183.68 56.01 L184.43 56.07 L185.15 56.17 L185.82 56.3 L186.48 56.47 L187.15 56.71 L187.88 57.01 L188.66 57.38 L189.49 57.82 L190.36 58.32 L191.27 58.87 L192.21 59.46 L193.18 60.08 L194.19 60.73 L195.21 61.39 L196.23 62.03 L197.23 62.66 L198.2 63.27 L199.14 63.88 L200.06 64.5 L200.96 65.13 L201.84 65.78 L202.71 66.46 L203.56 67.19 L204.41 67.96 L205.26 68.8 L206.13 69.75 L207.05 70.8 L207.99 71.92 L208.95 73.11 L209.93 74.34 L210.94 75.61 L211.96 76.88 L213.01 78.16 L214.06 79.39 L215.08 80.57 L216.09 81.72 L217.1 82.87 L218.11 84 L219.12 85.14 L220.13 86.27 L221.14 87.39 L222.15 88.5 L223.16 89.61 L224.16 90.71 L225.17 91.8 L226.17 92.9 L227.17 93.99 L228.18 95.09 L229.2 96.18 L230.22 97.27 L231.24 98.35 L232.28 99.42 L233.32 100.48 L234.35 101.51 L235.38 102.51 L236.41 103.5 L237.44 104.47 L238.47 105.43 L239.51 106.38 L240.55 107.31 L241.59 108.23 L242.64 109.12 L243.7 110 L244.74 110.85 L245.78 111.68 L246.82 112.49 L247.86 113.29 L248.92 114.08 L249.98 114.85 L251.06 115.6 L252.15 116.33 L253.25 117.04 L254.36 117.71 L255.46 118.34 L256.5 118.9 L257.48 119.43 L258.47 119.93 L259.49 120.42 L260.54 120.89 L261.66 121.34 L262.83 121.76 L264.08 122.15 L265.41 122.52 L266.87 122.88 L268.56 123.22 L270.43 123.53 L272.43 123.81 L274.48 124.08 L276.54 124.32 L278.53 124.54 L280.39 124.73 L282.03 124.9 L283.38 125.05 L284.39 125.16" stroke="#c8c8d0" stroke-width="0.7" fill="none"/>
<path d="M111.7 118 L146.9 80 L166.5 58.8 L175 55.8 L190 56.5" stroke="#c4c2c8" stroke-width="0.8" fill="none"/>
<path d="M105 126 L157.3 80 L180 60 L186 58.2 L200 61.5" stroke="#c4c2c8" stroke-width="0.8" fill="none"/>
<path d="M100 124.5 L219.5 84.5" stroke="#c4c2c8" stroke-width="0.8" fill="none"/>
<path d="M100 124 L241 107.5" stroke="#c4c2c8" stroke-width="0.8" fill="none"/>
<path d="M100 126 L264 126.5" stroke="#c4c2c8" stroke-width="0.8" fill="none"/>
<path d="M100 128 L273.5 142.5" stroke="#c4c2c8" stroke-width="0.8" fill="none"/>
<path d="M19.66 81.18 L21.11 82.67 L22.61 84.2 L24.11 85.72 L25.56 87.19 L26.9 88.53 L28.1 89.71 L29.17 90.75 L30.17 91.71 L31.11 92.61 L32.02 93.46 L32.9 94.27 L33.76 95.06 L34.63 95.84 L35.5 96.62 L36.4 97.42 L37.34 98.25 L38.31 99.11 L39.29 99.97 L40.28 100.84 L41.27 101.73 L42.26 102.62 L43.24 103.53 L44.21 104.43 L45.18 105.34 L46.14 106.24 L47.09 107.14 L48.02 108.03 L48.94 108.93 L49.87 109.83 L50.79 110.74 L51.71 111.64 L52.64 112.54 L53.58 113.43 L54.52 114.3 L55.48 115.16 L56.44 115.99 L57.41 116.78 L58.37 117.56 L59.34 118.3 L60.32 119.03 L61.3 119.73 L62.28 120.4 L63.27 121.06 L64.26 121.69 L65.25 122.31 L66.23 122.9 L67.21 123.47 L68.21 124.03 L69.22 124.57 L70.26 125.1 L71.33 125.61 L72.43 126.09 L73.57 126.53 L74.73 126.93 L75.94 127.29 L77.13 127.58 L78.25 127.82 L79.36 128.02 L80.53 128.19 L81.74 128.32 L83.01 128.38 L84.32 128.37 L85.68 128.28 L87.08 128.09 L88.51 127.8 L89.97 127.39 L91.43 126.87 L92.83 126.25 L94.13 125.57 L95.36 124.85 L106.5 123.6 L128 118.5 L224.5 92.5" stroke="#28e028" stroke-width="1.9" fill="none"/>
<path d="M92 131 L223 95.5" stroke="#f08cc0" stroke-width="2.2" stroke-dasharray="2 2.2" fill="none"/>
<path d="M88 125.1 L94.6 122.9 L96.9 120.7 L106.5 118.5 L117.5 114 L128 108.9 L150 98.6 L208 65" stroke="#f8e018" stroke-width="1.7" fill="none"/>
<path d="M101.2 128.2 L208.7 66.9" stroke="#000" stroke-width="3.2" stroke-dasharray="1.5 2.3" fill="none"/>
<path d="M100.5 126.2 L208 65" stroke="#fae41a" stroke-width="3" stroke-dasharray="3.2 0.6" fill="none"/>
<path d="M99 121.5 L110 115.5 L119 110 L128 103.5 L150.4 83 L172 60 L177.5 58 L185 58.2" stroke="#ff1a1a" stroke-width="2" fill="none"/>
<path d="M110 128 L178 63" stroke="#ff1010" stroke-width="2.4" stroke-dasharray="2.2 2.8" fill="none"/>
<path d="M31 3 V166 M128.9 3 V166 M227.6 3 V166" stroke="#1cc4d0" stroke-width="1.5" stroke-dasharray="1.2 0.7" fill="none"/>
<path d="M133.3 2 C133.58 5 134.22 14.58 135 20 C135.78 25.42 136.5 30.5 138 34.5 C139.5 38.5 141.57 42.03 144 44 C146.43 45.97 149.15 46.43 152.6 46.3 C156.05 46.17 160.67 44.1 164.7 43.2 C168.73 42.3 171.92 40.9 176.8 40.9 C181.68 40.9 188.8 42.38 194 43.2 C199.2 44.02 204.25 46.08 208 45.8 C211.75 45.52 214.35 44.8 216.5 41.5 C218.65 38.2 219.88 32.58 220.9 26 C221.92 19.42 222.32 6 222.6 2" stroke="#1cc4d0" stroke-width="1.5" stroke-dasharray="1.2 0.7" fill="none"/>
<path d="M35.3 166 C35.82 162.4 37.17 149.88 38.4 144.4 C39.63 138.92 40.68 135.83 42.7 133.1 C44.72 130.37 47.2 128.57 50.5 128 C53.8 127.43 58.18 128.98 62.5 129.7 C66.82 130.42 72.08 131.93 76.4 132.3 C80.72 132.67 84.08 132.53 88.4 131.9 C92.72 131.27 98.12 129.45 102.3 128.5 C106.48 127.55 110.92 125.72 113.5 126.2 C116.08 126.68 116.5 128.37 117.8 131.4 C119.1 134.43 120.28 138.63 121.3 144.4 C122.32 150.17 123.47 162.4 123.9 166" stroke="#1cc4d0" stroke-width="1.5" stroke-dasharray="1.2 0.7" fill="none"/>
<path d="M232.2 166 C232.57 161.73 233.4 146.4 234.4 140.4 C235.4 134.4 236.45 132.37 238.2 130 C239.95 127.63 241.78 126.7 244.9 126.2 C248.02 125.7 253.15 126.37 256.9 127 C260.65 127.63 264.22 129.07 267.4 130 C270.58 130.93 274.57 132.17 276 132.6" stroke="#1cc4d0" stroke-width="1.5" stroke-dasharray="1.2 0.7" fill="none"/>
<path d="M98.7 72.6 L60.8 107 M98.7 72.6 L98.7 102.5" stroke="#34d8e4" stroke-width="1.5" fill="none"/>
<path d="M65.62 106.28 L60.5 107.2 L61.92 102.2 M101.46 98.39 L98.7 102.8 L95.94 98.39" stroke="#34d8e4" stroke-width="1.5" fill="none"/>
<path d="M88 162 V136.8 M84.7 141 L88 136.5 L91.3 141" stroke="#f080b8" stroke-width="1.7" fill="none" stroke-linejoin="miter"/>
<path d="M97.6 162 V136.8 M94.3 141 L97.6 136.5 L100.9 141" stroke="#f8f020" stroke-width="1.7" fill="none" stroke-linejoin="miter"/>
<path d="M112.6 162 V136.8 M109.3 141 L112.6 136.5 L115.9 141" stroke="#ff1010" stroke-width="1.7" fill="none" stroke-linejoin="miter"/>
</g>
<clipPath id="clipB"><rect x="350.7" y="3.0" width="252.6" height="164.5"/></clipPath>
<g clip-path="url(#clipB)">
<g transform="matrix(1.0329 0 0 1.0298 320.77 -0.4)">
<clipPath id="fanB"><path d="M140 76 L150 60 L203 -10 L300 -10 L300 121 L285.41 116.52 L284.35 116.4 L282.94 116.25 L281.29 116.08 L279.46 115.88 L277.52 115.67 L275.54 115.44 L273.59 115.19 L271.76 114.93 L270.12 114.66 L268.76 114.38 L267.6 114.1 L266.54 113.81 L265.6 113.51 L264.73 113.2 L263.92 112.87 L263.13 112.52 L262.34 112.14 L261.51 111.72 L260.63 111.25 L259.71 110.74 L258.77 110.21 L257.85 109.65 L256.92 109.06 L255.98 108.43 L255.03 107.76 L254.07 107.07 L253.11 106.35 L252.14 105.61 L251.17 104.85 L250.19 104.07 L249.22 103.29 L248.26 102.48 L247.29 101.65 L246.32 100.8 L245.35 99.93 L244.37 99.04 L243.4 98.13 L242.42 97.2 L241.43 96.26 L240.45 95.3 L239.48 94.34 L238.51 93.35 L237.53 92.34 L236.55 91.3 L235.56 90.25 L234.57 89.18 L233.58 88.11 L232.58 87.02 L231.58 85.93 L230.58 84.84 L229.59 83.75 L228.59 82.66 L227.6 81.56 L226.6 80.45 L225.61 79.34 L224.62 78.23 L223.62 77.11 L222.63 75.98 L221.64 74.84 L220.65 73.72 L219.69 72.58 L218.72 71.4 L217.73 70.17 L216.74 68.92 L215.73 67.66 L214.7 66.39 L213.66 65.15 L212.6 63.94 L211.52 62.77 L210.42 61.67 L209.31 60.66 L208.22 59.73 L207.13 58.87 L206.05 58.07 L204.98 57.32 L203.92 56.61 L202.89 55.94 L201.87 55.3 L200.86 54.67 L199.88 54.05 L198.89 53.42 L197.9 52.77 L196.88 52.12 L195.84 51.46 L194.77 50.82 L193.69 50.2 L192.57 49.61 L191.43 49.06 L190.24 48.57 L189.02 48.15 L187.79 47.82 L186.57 47.58 L185.38 47.42 L184.22 47.32 L183.08 47.28 L181.98 47.27 L180.91 47.29 L179.87 47.32 L178.86 47.36 L177.86 47.4 L176.84 47.44 L175.79 47.5 L174.73 47.57 L173.66 47.67 L172.59 47.78 L171.5 47.92 L170.41 48.09 L169.31 48.3 L168.2 48.54 L167.1 48.82 L166.02 49.12 L164.94 49.45 L163.86 49.81 L162.78 50.2 L161.69 50.62 L160.6 51.07 L159.52 51.56 L158.43 52.09 L157.33 52.66 L156.25 53.27 L155.19 53.89 L154.13 54.55 L153.07 55.23 L152 55.96 L150.93 56.72 L149.85 57.53 L148.78 58.4 L147.7 59.31 L146.62 60.28 L145.53 61.32 L144.43 62.46 L143.35 63.67 L142.29 64.93 L141.25 66.23 L140.23 67.54 Z"/></clipPath>
<clipPath id="lowB"><path d="M10 200 L14.57 77.4 L15.35 78.19 L16.37 79.24 L17.58 80.48 L18.94 81.88 L20.4 83.37 L21.9 84.9 L23.4 86.43 L24.85 87.89 L26.2 89.24 L27.4 90.43 L28.47 91.47 L29.48 92.43 L30.43 93.34 L31.34 94.19 L32.22 95 L33.09 95.8 L33.96 96.58 L34.83 97.36 L35.74 98.17 L36.67 99 L37.65 99.86 L38.63 100.72 L39.63 101.59 L40.64 102.46 L41.65 103.33 L42.67 104.2 L43.69 105.06 L44.71 105.91 L45.73 106.74 L46.75 107.56 L47.75 108.36 L48.75 109.17 L49.76 109.97 L50.77 110.77 L51.78 111.55 L52.8 112.33 L53.83 113.09 L54.86 113.82 L55.9 114.52 L56.94 115.19 L57.98 115.83 L59.01 116.43 L60.05 117.01 L61.08 117.55 L62.11 118.07 L63.15 118.57 L64.18 119.05 L65.2 119.5 L66.23 119.94 L67.25 120.36 L68.27 120.76 L69.29 121.15 L70.32 121.53 L71.36 121.9 L72.4 122.24 L73.45 122.56 L74.51 122.84 L75.57 123.1 L76.65 123.31 L77.72 123.48 L78.76 123.61 L79.8 123.73 L80.85 123.83 L81.92 123.89 L83 123.91 L84.1 123.89 L85.21 123.8 L86.33 123.65 L87.46 123.42 L88.61 123.11 L89.75 122.69 L90.87 122.19 L91.96 121.62 L93.04 121 L94.09 120.34 L95.12 119.65 L96.14 118.94 L97.15 118.23 L98.15 117.53 L99.14 116.84 L100.15 116.14 L101.17 115.42 L102.18 114.68 L103.2 113.93 L104.22 113.15 L105.24 112.36 L106.25 111.55 L107.27 110.73 L108.29 109.88 L109.3 109.02 L110.32 108.13 L111.34 107.23 L112.35 106.3 L113.37 105.36 L114.38 104.4 L115.39 103.43 L116.4 102.44 L117.41 101.44 L118.42 100.42 L119.43 99.39 L120.45 98.34 L121.46 97.26 L122.48 96.16 L123.48 95.05 L124.49 93.93 L125.49 92.8 L126.49 91.68 L127.49 90.56 L128.49 89.44 L129.48 88.34 L130.47 87.26 L131.47 86.18 L132.47 85.1 L133.47 84.02 L134.47 82.93 L135.48 81.84 L136.48 80.73 L137.49 79.61 L138.5 78.47 L139.52 77.3 L140.55 76.08 L141.57 74.8 L142.58 73.51 L143.58 72.2 L144.58 70.91 L145.57 69.64 L146.55 68.42 L147.51 67.27 L148.47 66.19 L149.41 65.22 L150.36 64.31 L151.32 63.45 L152.27 62.64 L153.23 61.88 L154.18 61.16 L155.14 60.47 L156.1 59.82 L157.07 59.2 L158.03 58.6 L159 58.03 L159.95 57.5 L160.9 57 L161.85 56.54 L162.8 56.11 L163.75 55.72 L164.7 55.35 L165.65 55.01 L166.61 54.69 L167.56 54.4 L168.52 54.13 L169.46 53.9 L170.4 53.69 L171.34 53.52 L172.29 53.37 L173.24 53.24 L174.19 53.14 L175.15 53.06 L176.12 52.99 L177.09 52.94 L178.08 52.9 L179.08 52.86 L180.07 52.82 L181.05 52.79 L182.01 52.77 L182.95 52.77 L183.88 52.81 L184.78 52.89 L185.67 53.01 L186.55 53.18 L187.42 53.41 L188.29 53.71 L189.19 54.09 L190.1 54.52 L191.04 55.02 L191.99 55.56 L192.95 56.14 L193.93 56.76 L194.92 57.39 L195.92 58.04 L196.93 58.69 L197.94 59.32 L198.93 59.95 L199.92 60.57 L200.9 61.21 L201.87 61.86 L202.83 62.53 L203.78 63.24 L204.73 63.99 L205.68 64.79 L206.62 65.65 L207.56 66.58 L208.51 67.61 L209.48 68.72 L210.46 69.89 L211.44 71.1 L212.44 72.35 L213.44 73.61 L214.45 74.87 L215.46 76.11 L216.48 77.3 L217.49 78.46 L218.5 79.61 L219.5 80.75 L220.5 81.88 L221.51 83.01 L222.51 84.13 L223.52 85.24 L224.52 86.35 L225.52 87.46 L226.52 88.55 L227.53 89.64 L228.53 90.74 L229.53 91.83 L230.53 92.92 L231.54 94 L232.55 95.08 L233.56 96.14 L234.57 97.19 L235.58 98.22 L236.6 99.23 L237.61 100.21 L238.62 101.18 L239.63 102.14 L240.64 103.08 L241.66 104.01 L242.67 104.92 L243.69 105.81 L244.71 106.68 L245.73 107.53 L246.75 108.36 L247.76 109.17 L248.78 109.96 L249.79 110.74 L250.82 111.5 L251.84 112.24 L252.87 112.96 L253.9 113.66 L254.94 114.32 L255.99 114.95 L257.02 115.55 L258.02 116.09 L258.96 116.59 L259.89 117.07 L260.83 117.52 L261.79 117.94 L262.79 118.34 L263.85 118.72 L264.98 119.08 L266.21 119.42 L267.57 119.75 L269.13 120.07 L270.92 120.37 L272.85 120.64 L274.87 120.9 L276.9 121.14 L278.87 121.35 L280.72 121.55 L282.37 121.72 L283.74 121.86 L284.77 121.99 L300 200 Z"/></clipPath>
<linearGradient id="wedgeB" gradientUnits="userSpaceOnUse" x1="98" y1="168" x2="128" y2="122"><stop offset="0" stop-color="#000" stop-opacity="1"/><stop offset="1" stop-color="#000" stop-opacity="0"/></linearGradient>
<rect x="28.8" y="4.0" width="244.7" height="159.8" fill="#000"/>
<g clip-path="url(#lowB)">
<linearGradient id="archB" gradientUnits="userSpaceOnUse" x1="175" y1="58" x2="205" y2="125"><stop offset="0" stop-color="#000" stop-opacity="0.75"/><stop offset="0.55" stop-color="#000" stop-opacity="0.25"/><stop offset="1" stop-color="#000" stop-opacity="0"/></linearGradient>
<rect x="0" y="60" width="300" height="120" fill="#45435f"/>
<rect x="100" y="40" width="160" height="100" fill="url(#archB)" opacity="0.5"/>
<path d="M0 90 L55 108 L80 170 L0 175 Z" fill="#000" opacity="0.92" filter="url(#b4)"/>
<rect x="0" y="60" width="300" height="120" fill="url(#wedgeB)" opacity="0.75"/>
<path d="M77.27 126.96 L64.59 230.18 M76.47 126.8 L49.9 227.35 M75.69 126.54 L35.73 222.55 M74.96 126.18 L22.34 215.88 M74.29 125.72 L9.98 207.44 M73.68 125.17 L-1.13 197.41 M73.16 124.54 L-10.77 185.97 M72.72 123.85 L-18.76 173.32 M72.38 123.11 L-24.97 159.7 M72.15 122.33 L-29.27 145.37 M72.02 121.52 L-31.58 130.59" stroke="#8484a4" stroke-width="1.5" fill="none" opacity="0.42" filter="url(#b1)"/>
<path d="M40.26 111.31 L41.32 112.17 L42.36 113.01 L43.37 113.82 L44.38 114.63 L45.4 115.45 L46.45 116.28 L47.52 117.11 L48.61 117.93 L49.72 118.76 L50.86 119.57 L52.03 120.36 L53.22 121.12 L54.39 121.84 L55.55 122.52 L56.71 123.16 L57.87 123.77 L59.01 124.35 L60.16 124.9 L61.29 125.43 L62.42 125.93 L63.54 126.4 L64.64 126.85 L65.73 127.28 L66.82 127.7 L67.95 128.12 L69.1 128.52 L70.29 128.91 L71.52 129.28 L72.78 129.63 L74.08 129.94 L75.42 130.2 L76.72 130.41 L77.92 130.56 L79.09 130.7 L80.33 130.81 L81.64 130.88 L83.01 130.91 L84.45 130.88 L85.95 130.76 L87.5 130.55 L89.09 130.23 L90.73 129.78 L92.37 129.18 L93.91 128.5 L95.34 127.76 L96.66 126.99 L97.89 126.22 L99.06 125.44 L100.15 124.68 L101.19 123.96 L102.16 123.27 L103.13 122.59 L104.17 121.88 L105.25 121.11 L106.33 120.33 L107.41 119.52 L108.49 118.7 L109.56 117.87 L110.64 117.01 L111.72 116.13 L112.79 115.24 L113.87 114.32 L114.95 113.38 L116.02 112.43 L117.09 111.46 L118.15 110.47 L119.21 109.47 L120.27 108.46 L121.32 107.43 L122.36 106.39 L123.4 105.34 L124.45 104.27 L125.52 103.16 L126.59 102.03 L127.64 100.88 L128.68 99.74 L129.71 98.59 L130.72 97.46 L131.72 96.33 L132.71 95.22 L133.69 94.12 L134.66 93.05 L135.63 91.99 L136.61 90.92 L137.61 89.85 L138.61 88.77 L139.62 87.67" stroke="#8a8aa4" stroke-width="7" fill="none" opacity="0.5" filter="url(#b3)"/>
</g>
<mask id="fmB" maskUnits="userSpaceOnUse" x="0" y="-50" width="400" height="250"><path d="M140 80 L152 55 L205 -14 L300 -14 L300 125 L285.12 119.01 L284.07 118.88 L282.68 118.74 L281.03 118.56 L279.19 118.37 L277.24 118.16 L275.23 117.92 L273.25 117.67 L271.38 117.4 L269.67 117.12 L268.22 116.82 L266.97 116.52 L265.84 116.2 L264.8 115.88 L263.85 115.54 L262.95 115.18 L262.08 114.79 L261.22 114.38 L260.35 113.93 L259.44 113.45 L258.49 112.93 L257.51 112.37 L256.53 111.78 L255.55 111.15 L254.57 110.49 L253.58 109.8 L252.59 109.08 L251.6 108.34 L250.61 107.59 L249.62 106.81 L248.63 106.02 L247.64 105.22 L246.65 104.39 L245.65 103.54 L244.66 102.67 L243.67 101.78 L242.68 100.88 L241.68 99.95 L240.69 99.01 L239.7 98.06 L238.7 97.09 L237.71 96.1 L236.72 95.09 L235.72 94.06 L234.73 93.02 L233.73 91.96 L232.73 90.88 L231.74 89.8 L230.74 88.71 L229.74 87.62 L228.74 86.52 L227.74 85.43 L226.74 84.34 L225.74 83.23 L224.74 82.12 L223.75 81.01 L222.75 79.89 L221.75 78.76 L220.75 77.63 L219.75 76.49 L218.76 75.35 L217.77 74.18 L216.78 72.97 L215.78 71.73 L214.78 70.48 L213.78 69.22 L212.77 67.98 L211.76 66.77 L210.74 65.61 L209.72 64.5 L208.69 63.48 L207.66 62.54 L206.63 61.66 L205.61 60.85 L204.58 60.1 L203.57 59.38 L202.55 58.7 L201.54 58.05 L200.53 57.41 L199.53 56.78 L198.54 56.16 L197.54 55.52 L196.54 54.87 L195.54 54.23 L194.52 53.59 L193.51 52.98 L192.48 52.39 L191.45 51.84 L190.41 51.35 L189.35 50.91 L188.29 50.54 L187.23 50.26 L186.16 50.05 L185.11 49.91 L184.06 49.82 L183.02 49.78 L181.99 49.77 L180.97 49.79 L179.96 49.82 L178.96 49.86 L177.96 49.9 L176.95 49.94 L175.94 50 L174.92 50.07 L173.9 50.15 L172.88 50.26 L171.86 50.4 L170.83 50.56 L169.8 50.75 L168.77 50.97 L167.74 51.23 L166.72 51.52 L165.7 51.83 L164.67 52.17 L163.65 52.54 L162.63 52.93 L161.6 53.36 L160.58 53.83 L159.55 54.32 L158.52 54.86 L157.5 55.43 L156.48 56.04 L155.47 56.66 L154.45 57.32 L153.43 58.01 L152.41 58.74 L151.39 59.51 L150.36 60.33 L149.34 61.19 L148.32 62.11 L147.29 63.09 L146.27 64.16 L145.24 65.31 L144.23 66.52 L143.22 67.78 L142.21 69.07 L141.21 70.37 L140.21 71.67 Z" fill="#fff" filter="url(#b3)"/></mask>
<g mask="url(#fmB)">
<rect x="100" y="-20" width="200" height="160" fill="#4c4a6a"/>
<path d="M157.92 53.11 L208.9 -30.11 M164.23 50.51 L225.81 -27.38 M168.42 49.22 L243.7 -23.86 M173.62 48.42 L261.42 -20.76 M178.62 47.95 L279.5 -17.85 M183.32 48.04 L298.01 -15.35 M187.12 48.8 L310.52 -6.31 M191.82 51.02 L311.12 3.09 M196.93 54.15 L311.57 12.28 M200.93 56.54 L312.22 22.21 M205.3 59.59 L312.68 31.32 M209.82 63.83 L312.97 39.99 M215.02 70.17 L312.89 46.66 M218.85 74.69 L313.13 54.71 M222.79 79.04 L313.39 63.05 M227.74 84.46 L313.49 70.63 M231.69 88.6 L313.77 79.68 M235.58 92.45 L313.97 89.49" stroke="#14141e" stroke-width="2.8" fill="none" opacity="1" filter="url(#b1)"/>
</g>
<path d="M110.47 125.97 L111.61 125.12 L112.75 124.25 L113.89 123.37 L115.03 122.46 L116.16 121.54 L117.3 120.59 L118.44 119.63 L119.57 118.64 L120.7 117.63 L121.83 116.61 L122.94 115.58 L124.04 114.54 L125.14 113.48 L126.23 112.42 L127.31 111.34 L128.38 110.26 L129.47 109.15 L130.6 107.98 L131.72 106.79 L132.81 105.61 L133.88 104.43 L134.93 103.26 L135.95 102.11 L136.95 100.98 L137.94 99.88 L138.9 98.81 L139.84 97.76 L140.79 96.72 L141.76 95.67 L142.74 94.6 L143.75 93.52 L144.77 92.42 L145.81 91.28 L146.86 90.13 L147.93 88.93 L149.02 87.71 L150.17 86.39 L151.37 84.95 L152.55 83.49 L153.65 82.08 L154.68 80.74 L155.65 79.48 L156.55 78.32 L157.38 77.29 L158.11 76.41 L158.74 75.71 L159.29 75.14 L159.88 74.57 L160.53 74 L161.17 73.45 L161.82 72.93 L162.47 72.44 L163.14 71.96 L163.82 71.5 L164.53 71.04 L165.27 70.59 L165.98 70.17 L166.62 69.81 L167.2 69.51 L167.79 69.22 L168.38 68.95 L168.98 68.7 L169.59 68.47 L170.21 68.25 L170.85 68.03 L171.5 67.83 L172.12 67.66 L172.66 67.52 L173.17 67.41 L173.71 67.31 L174.28 67.22 L174.89 67.14 L175.55 67.07 L176.24 67.01 L176.97 66.96 L177.75 66.92 L178.64 66.89 L179.64 66.85 L180.6 66.81 L181.42 66.78 L182.09 66.77 L182.62 66.77 L183 66.78 L183.25 66.8 L183.37 66.82 L183.38 66.82 L183.33 66.8 L183.32 66.8 L183.48 66.87 L183.81 67.03 L184.28 67.28 L184.89 67.63 L185.6 68.06 L186.42 68.58 L187.34 69.16 L188.34 69.81 L189.42 70.5 L190.48 71.18 L191.47 71.8 L192.38 72.37 L193.2 72.9 L193.96 73.41 L194.64 73.89 L195.27 74.35 L195.86 74.82 L196.42 75.29 L196.95 75.77 L197.48 76.3 L198.1 76.97 L198.83 77.81 L199.65 78.79 L200.54 79.88 L201.49 81.08 L202.5 82.35 L203.58 83.69 L204.72 85.08 L205.87 86.44 L206.95 87.68 L207.98 88.85 L209.01 90.02 L210.04 91.18 L211.06 92.33 L212.09 93.48 L213.12 94.62 L214.15 95.76 L215.18 96.89 L216.2 98 L217.2 99.1 L218.2 100.19 L219.22 101.3 L220.25 102.42 L221.3 103.55 L222.36 104.69 L223.45 105.82 L224.54 106.96" stroke="#000" stroke-width="18" fill="none" opacity="0.12" filter="url(#b4)"/>
<path d="M105.44 119.12 L106.51 118.32 L107.57 117.51 L108.64 116.69 L109.7 115.84 L110.76 114.97 L111.83 114.09 L112.89 113.19 L113.96 112.26 L115.02 111.31 L116.07 110.35 L117.13 109.38 L118.18 108.38 L119.22 107.38 L120.26 106.36 L121.3 105.33 L122.34 104.29 L123.38 103.23 L124.44 102.13 L125.49 101 L126.54 99.87 L127.57 98.73 L128.59 97.59 L129.6 96.46 L130.6 95.33 L131.6 94.22 L132.58 93.12 L133.55 92.04 L134.53 90.97 L135.51 89.91 L136.51 88.83 L137.51 87.75 L138.52 86.66 L139.53 85.55 L140.56 84.42 L141.59 83.27 L142.63 82.1 L143.7 80.87 L144.8 79.56 L145.88 78.22 L146.93 76.87 L147.94 75.55 L148.93 74.27 L149.88 73.05 L150.8 71.91 L151.68 70.86 L152.5 69.93 L153.29 69.12 L154.1 68.34 L154.93 67.59 L155.77 66.89 L156.6 66.22 L157.44 65.59 L158.28 64.99 L159.14 64.41 L160 63.85 L160.88 63.31 L161.74 62.8 L162.57 62.34 L163.37 61.92 L164.18 61.52 L164.99 61.16 L165.8 60.82 L166.62 60.5 L167.44 60.21 L168.27 59.93 L169.11 59.68 L169.93 59.45 L170.71 59.25 L171.48 59.08 L172.27 58.94 L173.07 58.81 L173.89 58.7 L174.72 58.61 L175.58 58.54 L176.46 58.48 L177.35 58.43 L178.3 58.39 L179.3 58.36 L180.28 58.31 L181.19 58.28 L182.04 58.27 L182.82 58.27 L183.53 58.3 L184.18 58.36 L184.77 58.43 L185.31 58.54 L185.81 58.67 L186.34 58.86 L186.94 59.11 L187.63 59.44 L188.38 59.84 L189.2 60.3 L190.06 60.83 L190.98 61.4 L191.94 62.02 L192.94 62.67 L193.98 63.33 L195.01 63.98 L196 64.6 L196.96 65.21 L197.88 65.8 L198.76 66.39 L199.61 66.99 L200.44 67.6 L201.25 68.24 L202.04 68.91 L202.82 69.62 L203.6 70.4 L204.42 71.29 L205.3 72.29 L206.21 73.38 L207.16 74.55 L208.14 75.78 L209.14 77.04 L210.18 78.33 L211.24 79.63 L212.32 80.89 L213.35 82.08 L214.37 83.24 L215.38 84.39 L216.39 85.53 L217.41 86.67 L218.42 87.8 L219.43 88.93 L220.45 90.05 L221.46 91.16" stroke="#000" stroke-width="7" fill="none" opacity="0.45" filter="url(#b1)"/>
<path d="M135.47 67.99 L136.45 66.71 L137.47 65.39 L138.51 64.06 L139.59 62.72 L140.7 61.38 L141.87 60.08 L143.06 58.84 L144.24 57.71 L145.4 56.67 L146.55 55.69 L147.71 54.77 L148.86 53.9 L150 53.08 L151.14 52.31 L152.27 51.59 L153.38 50.9 L154.51 50.23 L155.67 49.58 L156.85 48.97 L158.03 48.39 L159.21 47.86 L160.38 47.37 L161.56 46.92 L162.72 46.5 L163.88 46.12 L165.03 45.76 L166.2 45.44 L167.4 45.13 L168.61 44.87 L169.82 44.65 L171 44.46 L172.17 44.31 L173.32 44.18 L174.46 44.08 L175.57 44.01 L176.67 43.95 L177.72 43.91 L178.72 43.87 L179.74 43.82 L180.82 43.79 L181.96 43.77 L183.17 43.78 L184.44 43.83 L185.77 43.94 L187.15 44.13 L188.58 44.41 L190.04 44.81 L191.48 45.3 L192.85 45.87 L194.15 46.48 L195.38 47.13 L196.55 47.8 L197.67 48.48 L198.75 49.16 L199.79 49.83 L200.79 50.47 L201.76 51.09 L202.73 51.7 L203.73 52.33 L204.77 52.99 L205.85 53.69 L206.96 54.43 L208.09 55.23 L209.26 56.09 L210.43 57.02 L211.63 58.03 L212.83 59.14 L214.04 60.34 L215.21 61.59 L216.32 62.88 L217.4 64.17 L218.45 65.46 L219.47 66.74 L220.47 67.99 L221.44 69.19 L222.37 70.34 L223.31 71.43 L224.27 72.54 L225.26 73.67 L226.25 74.79 L227.23 75.9 L228.22 77.01 L229.21 78.12 L230.2 79.21 L231.18 80.3 L232.17 81.39 L233.16 82.47 L234.16 83.56 L235.16 84.66 L236.15 85.74 L237.14 86.81 L238.12 87.86 L239.09 88.9 L240.06 89.91 L241.01 90.9 L241.96 91.87 L242.91 92.81 L243.87 93.74 L244.83 94.67 L245.79 95.58 L246.75 96.47 L247.7 97.33 L248.64 98.18 L249.58 99.01" stroke="#8c8cac" stroke-width="12" fill="none" opacity="0.45" filter="url(#b3)"/>
<path d="M16 76 L16.78 76.79 L17.8 77.84 L19.01 79.09 L20.37 80.48 L21.83 81.97 L23.32 83.5 L24.82 85.02 L26.27 86.48 L27.61 87.82 L28.8 89 L29.86 90.03 L30.86 90.99 L31.8 91.88 L32.7 92.72 L33.57 93.53 L34.44 94.32 L35.29 95.09 L36.17 95.87 L37.06 96.67 L38 97.5 L38.97 98.35 L39.95 99.22 L40.94 100.08 L41.94 100.95 L42.95 101.81 L43.96 102.67 L44.97 103.52 L45.99 104.36 L47 105.19 L48 106 L49 106.8 L50 107.6 L51 108.4 L52 109.19 L53 109.97 L54 110.73 L55 111.47 L56 112.18 L57 112.86 L58 113.5 L59 114.11 L60 114.69 L61 115.25 L62 115.78 L63 116.28 L64 116.76 L65 117.23 L66 117.67 L67 118.09 L68 118.5 L69 118.9 L70 119.28 L71 119.65 L72 120 L73 120.33 L74 120.63 L75 120.91 L76 121.14 L77 121.34 L78 121.5 L79 121.63 L80 121.74 L81 121.83 L82 121.89 L83 121.91 L84 121.89 L85 121.81 L86 121.68 L87 121.48 L88 121.2 L89 120.84 L90 120.39 L91 119.87 L92 119.29 L93 118.66 L94 118 L95 117.3 L96 116.6 L97 115.89 L98 115.2 L99 114.51 L100 113.8 L101 113.07 L102 112.33 L103 111.57 L104 110.79 L105 110 L106 109.18 L107 108.35 L108 107.5 L109 106.63 L110 105.74 L111 104.83 L112 103.9 L113 102.96 L114 101.99 L115 101.02 L116 100.02 L117 99.02 L118 98 L119 96.96 L120 95.9 L121 94.81 L122 93.71 L123 92.59 L124 91.47 L125 90.35 L126 89.22 L127 88.11 L128 87 L129 85.91 L130 84.82 L131 83.74 L132 82.66 L133 81.58 L134 80.49 L135 79.39 L136 78.28 L137 77.15 L138 76 L139 74.81 L140 73.56 L141 72.28 L142 70.98 L143 69.68 L144 68.4 L145 67.15 L146 65.96 L147 64.84 L148 63.8 L149 62.84 L150 61.94 L151 61.1 L152 60.3 L153 59.54 L154 58.83 L155 58.15 L156 57.51 L157 56.89 L158 56.3 L159 55.74 L160 55.22 L161 54.73 L162 54.28 L163 53.86 L164 53.48 L165 53.12 L166 52.79 L167 52.48 L168 52.2 L169 51.95 L170 51.73 L171 51.54 L172 51.39 L173 51.26 L174 51.15 L175 51.06 L176 50.99 L177 50.94 L178 50.9 L179 50.86 L180 50.82 L181 50.79 L182 50.77 L183 50.77 L184 50.82 L185 50.9 L186 51.04 L187 51.23 L188 51.5 L189 51.84 L190 52.26 L191 52.74 L192 53.27 L193 53.84 L194 54.44 L195 55.07 L196 55.71 L197 56.36 L198 57 L199 57.63 L200 58.26 L201 58.89 L202 59.54 L203 60.21 L204 60.91 L205 61.65 L206 62.44 L207 63.29 L208 64.2 L209 65.2 L210 66.28 L211 67.42 L212 68.62 L213 69.85 L214 71.1 L215 72.36 L216 73.6 L217 74.82 L218 76 L219 77.15 L220 78.29 L221 79.42 L222 80.55 L223 81.67 L224 82.79 L225 83.9 L226 85.01 L227 86.11 L228 87.2 L229 88.29 L230 89.38 L231 90.47 L232 91.56 L233 92.64 L234 93.7 L235 94.76 L236 95.79 L237 96.81 L238 97.8 L239 98.77 L240 99.73 L241 100.68 L242 101.61 L243 102.52 L244 103.42 L245 104.3 L246 105.15 L247 105.99 L248 106.8 L249 107.59 L250 108.38 L251 109.14 L252 109.89 L253 110.61 L254 111.31 L255 111.98 L256 112.62 L257 113.23 L258 113.8 L258.97 114.33 L259.89 114.82 L260.78 115.28 L261.66 115.7 L262.56 116.1 L263.5 116.47 L264.49 116.83 L265.55 117.16 L266.72 117.49 L268 117.8 L269.49 118.1 L271.22 118.39 L273.12 118.66 L275.11 118.92 L277.12 119.15 L279.09 119.36 L280.93 119.56 L282.58 119.73 L283.96 119.88 L285 120" stroke="#9c9cc0" stroke-width="13" fill="none" opacity="0.6" filter="url(#b2)"/>
<path d="M16 76 L16.78 76.79 L17.8 77.84 L19.01 79.09 L20.37 80.48 L21.83 81.97 L23.32 83.5 L24.82 85.02 L26.27 86.48 L27.61 87.82 L28.8 89 L29.86 90.03 L30.86 90.99 L31.8 91.88 L32.7 92.72 L33.57 93.53 L34.44 94.32 L35.29 95.09 L36.17 95.87 L37.06 96.67 L38 97.5 L38.97 98.35 L39.95 99.22 L40.94 100.08 L41.94 100.95 L42.95 101.81 L43.96 102.67 L44.97 103.52 L45.99 104.36 L47 105.19 L48 106 L49 106.8 L50 107.6 L51 108.4 L52 109.19 L53 109.97 L54 110.73 L55 111.47 L56 112.18 L57 112.86 L58 113.5 L59 114.11 L60 114.69 L61 115.25 L62 115.78 L63 116.28 L64 116.76 L65 117.23 L66 117.67 L67 118.09 L68 118.5 L69 118.9 L70 119.28 L71 119.65 L72 120 L73 120.33 L74 120.63 L75 120.91 L76 121.14 L77 121.34 L78 121.5 L79 121.63 L80 121.74 L81 121.83 L82 121.89 L83 121.91 L84 121.89 L85 121.81 L86 121.68 L87 121.48 L88 121.2 L89 120.84 L90 120.39 L91 119.87 L92 119.29 L93 118.66 L94 118 L95 117.3 L96 116.6 L97 115.89 L98 115.2 L99 114.51 L100 113.8 L101 113.07 L102 112.33 L103 111.57 L104 110.79 L105 110 L106 109.18 L107 108.35 L108 107.5 L109 106.63 L110 105.74 L111 104.83 L112 103.9 L113 102.96 L114 101.99 L115 101.02 L116 100.02 L117 99.02 L118 98 L119 96.96 L120 95.9 L121 94.81 L122 93.71 L123 92.59 L124 91.47 L125 90.35 L126 89.22 L127 88.11 L128 87 L129 85.91 L130 84.82 L131 83.74 L132 82.66 L133 81.58 L134 80.49 L135 79.39 L136 78.28 L137 77.15 L138 76 L139 74.81 L140 73.56 L141 72.28 L142 70.98 L143 69.68 L144 68.4 L145 67.15 L146 65.96 L147 64.84 L148 63.8 L149 62.84 L150 61.94 L151 61.1 L152 60.3 L153 59.54 L154 58.83 L155 58.15 L156 57.51 L157 56.89 L158 56.3 L159 55.74 L160 55.22 L161 54.73 L162 54.28 L163 53.86 L164 53.48 L165 53.12 L166 52.79 L167 52.48 L168 52.2 L169 51.95 L170 51.73 L171 51.54 L172 51.39 L173 51.26 L174 51.15 L175 51.06 L176 50.99 L177 50.94 L178 50.9 L179 50.86 L180 50.82 L181 50.79 L182 50.77 L183 50.77 L184 50.82 L185 50.9 L186 51.04 L187 51.23 L188 51.5 L189 51.84 L190 52.26 L191 52.74 L192 53.27 L193 53.84 L194 54.44 L195 55.07 L196 55.71 L197 56.36 L198 57 L199 57.63 L200 58.26 L201 58.89 L202 59.54 L203 60.21 L204 60.91 L205 61.65 L206 62.44 L207 63.29 L208 64.2 L209 65.2 L210 66.28 L211 67.42 L212 68.62 L213 69.85 L214 71.1 L215 72.36 L216 73.6 L217 74.82 L218 76 L219 77.15 L220 78.29 L221 79.42 L222 80.55 L223 81.67 L224 82.79 L225 83.9 L226 85.01 L227 86.11 L228 87.2 L229 88.29 L230 89.38 L231 90.47 L232 91.56 L233 92.64 L234 93.7 L235 94.76 L236 95.79 L237 96.81 L238 97.8 L239 98.77 L240 99.73 L241 100.68 L242 101.61 L243 102.52 L244 103.42 L245 104.3 L246 105.15 L247 105.99 L248 106.8 L249 107.59 L250 108.38 L251 109.14 L252 109.89 L253 110.61 L254 111.31 L255 111.98 L256 112.62 L257 113.23 L258 113.8 L258.97 114.33 L259.89 114.82 L260.78 115.28 L261.66 115.7 L262.56 116.1 L263.5 116.47 L264.49 116.83 L265.55 117.16 L266.72 117.49 L268 117.8 L269.49 118.1 L271.22 118.39 L273.12 118.66 L275.11 118.92 L277.12 119.15 L279.09 119.36 L280.93 119.56 L282.58 119.73 L283.96 119.88 L285 120" stroke="#d8ece8" stroke-width="6" fill="none" filter="url(#b05)"/>
<path d="M16 76 L16.78 76.79 L17.8 77.84 L19.01 79.09 L20.37 80.48 L21.83 81.97 L23.32 83.5 L24.82 85.02 L26.27 86.48 L27.61 87.82 L28.8 89 L29.86 90.03 L30.86 90.99 L31.8 91.88 L32.7 92.72 L33.57 93.53 L34.44 94.32 L35.29 95.09 L36.17 95.87 L37.06 96.67 L38 97.5 L38.97 98.35 L39.95 99.22 L40.94 100.08 L41.94 100.95 L42.95 101.81 L43.96 102.67 L44.97 103.52 L45.99 104.36 L47 105.19 L48 106 L49 106.8 L50 107.6 L51 108.4 L52 109.19 L53 109.97 L54 110.73 L55 111.47 L56 112.18 L57 112.86 L58 113.5 L59 114.11 L60 114.69 L61 115.25 L62 115.78 L63 116.28 L64 116.76 L65 117.23 L66 117.67 L67 118.09 L68 118.5 L69 118.9 L70 119.28 L71 119.65 L72 120 L73 120.33 L74 120.63 L75 120.91 L76 121.14 L77 121.34 L78 121.5 L79 121.63 L80 121.74 L81 121.83 L82 121.89 L83 121.91 L84 121.89 L85 121.81 L86 121.68 L87 121.48 L88 121.2 L89 120.84 L90 120.39 L91 119.87 L92 119.29 L93 118.66 L94 118 L95 117.3 L96 116.6 L97 115.89 L98 115.2 L99 114.51 L100 113.8 L101 113.07 L102 112.33 L103 111.57 L104 110.79 L105 110 L106 109.18 L107 108.35 L108 107.5 L109 106.63 L110 105.74 L111 104.83 L112 103.9 L113 102.96 L114 101.99 L115 101.02 L116 100.02 L117 99.02 L118 98 L119 96.96 L120 95.9 L121 94.81 L122 93.71 L123 92.59 L124 91.47 L125 90.35 L126 89.22 L127 88.11 L128 87 L129 85.91 L130 84.82 L131 83.74 L132 82.66 L133 81.58 L134 80.49 L135 79.39 L136 78.28 L137 77.15 L138 76 L139 74.81 L140 73.56 L141 72.28 L142 70.98 L143 69.68 L144 68.4 L145 67.15 L146 65.96 L147 64.84 L148 63.8 L149 62.84 L150 61.94 L151 61.1 L152 60.3 L153 59.54 L154 58.83 L155 58.15 L156 57.51 L157 56.89 L158 56.3 L159 55.74 L160 55.22 L161 54.73 L162 54.28 L163 53.86 L164 53.48 L165 53.12 L166 52.79 L167 52.48 L168 52.2 L169 51.95 L170 51.73 L171 51.54 L172 51.39 L173 51.26 L174 51.15 L175 51.06 L176 50.99 L177 50.94 L178 50.9 L179 50.86 L180 50.82 L181 50.79 L182 50.77 L183 50.77 L184 50.82 L185 50.9 L186 51.04 L187 51.23 L188 51.5 L189 51.84 L190 52.26 L191 52.74 L192 53.27 L193 53.84 L194 54.44 L195 55.07 L196 55.71 L197 56.36 L198 57 L199 57.63 L200 58.26 L201 58.89 L202 59.54 L203 60.21 L204 60.91 L205 61.65 L206 62.44 L207 63.29 L208 64.2 L209 65.2 L210 66.28 L211 67.42 L212 68.62 L213 69.85 L214 71.1 L215 72.36 L216 73.6 L217 74.82 L218 76 L219 77.15 L220 78.29 L221 79.42 L222 80.55 L223 81.67 L224 82.79 L225 83.9 L226 85.01 L227 86.11 L228 87.2 L229 88.29 L230 89.38 L231 90.47 L232 91.56 L233 92.64 L234 93.7 L235 94.76 L236 95.79 L237 96.81 L238 97.8 L239 98.77 L240 99.73 L241 100.68 L242 101.61 L243 102.52 L244 103.42 L245 104.3 L246 105.15 L247 105.99 L248 106.8 L249 107.59 L250 108.38 L251 109.14 L252 109.89 L253 110.61 L254 111.31 L255 111.98 L256 112.62 L257 113.23 L258 113.8 L258.97 114.33 L259.89 114.82 L260.78 115.28 L261.66 115.7 L262.56 116.1 L263.5 116.47 L264.49 116.83 L265.55 117.16 L266.72 117.49 L268 117.8 L269.49 118.1 L271.22 118.39 L273.12 118.66 L275.11 118.92 L277.12 119.15 L279.09 119.36 L280.93 119.56 L282.58 119.73 L283.96 119.88 L285 120" stroke="#f2a8c8" stroke-width="2.5" fill="none" filter="url(#b03)"/>
</g>
<path d="M440.59 102.61 L441.62 101.57 L442.65 100.52 L443.69 99.45 L444.72 98.35 L445.75 97.24 L446.78 96.1 L447.82 94.95 L448.85 93.8 L449.88 92.64 L450.92 91.48 L451.95 90.33 L452.98 89.19 L454.01 88.07 L455.05 86.95 L456.08 85.83 L457.11 84.72 L458.15 83.61 L459.18 82.48 L460.21 81.35 L461.24 80.21 L462.28 79.05 L463.31 77.86 L464.34 76.64 L465.38 75.35 L466.41 74.03 L467.44 72.7 L468.47 71.36 L469.51 70.04 L470.54 68.75 L471.57 67.52 L472.61 66.37 L473.64 65.3 L474.67 64.32 L475.7 63.39 L476.74 62.52 L477.77 61.7 L478.8 60.92 L479.84 60.18 L480.87 59.48 L481.9 58.82 L482.94 58.19 L483.97 57.58 L485 57 L486.03 56.46 L487.07 55.96 L488.1 55.5 L489.13 55.07 L490.17 54.67 L491.2 54.3 L492.23 53.96 L493.26 53.65 L494.3 53.36 L495.33 53.1 L496.36 52.87 L497.4 52.68 L498.43 52.52 L499.46 52.38 L500.49 52.27 L501.53 52.18 L502.56 52.11 L503.59 52.06 L504.63 52.02 L505.66 51.98 L506.69 51.93 L507.72 51.9 L508.76 51.88 L509.79 51.89 L510.82 51.93 L511.86 52.02 L512.89 52.16 L513.92 52.36 L514.96 52.63 L515.99 52.99 L517.02 53.42 L518.05 53.91 L519.09 54.45 L520.12 55.04 L521.15 55.66 L522.19 56.31 L523.22 56.97 L524.25 57.64 L525.28 58.3 L526.32 58.95 L527.35 59.59 L528.38 60.25 L529.42 60.91 L530.45 61.6 L531.48 62.32 L532.51 63.09 L533.55 63.9 L534.58 64.77 L535.61 65.71 L536.65 66.74 L537.68 67.85 L538.71 69.03 L539.74 70.26 L540.78 71.53 L541.81 72.82 L542.84 74.12 L543.88 75.4 L544.91 76.65 L545.94 77.86 L546.98 79.05 L548.01 80.22 L549.04 81.39 L550.07 82.55 L551.11 83.71 L552.14 84.86 L553.17 86 L554.21 87.14 L555.24 88.27 L556.27 89.4 L557.3 90.52 L558.34 91.65 L559.37 92.77 L560.4 93.89 L561.44 95 L562.47 96.1 L563.5 97.18 L564.53 98.25 L565.57 99.29 L566.6 100.31 L567.63 101.32 L568.67 102.31 L569.7 103.28 L570.73 104.24 L571.76 105.18 L572.8 106.1 L573.83 107.01 L574.86 107.89 L575.9 108.75 L576.93 109.58 L577.96 110.4 L578.99 111.21 L580.03 111.99 L581.06 112.76 L582.09 113.51 L583.13 114.23 L584.16 114.92 L585.19 115.58 L586.23 116.2 L587.26 116.79 L588.26 117.34 L589.21 117.84 L590.13 118.31 L591.04 118.75 L591.97 119.16 L592.94 119.54 L593.96 119.91 L595.06 120.25 L596.26 120.59 L597.59 120.91 L599.13 121.22 L600.92 121.52 L602.88 121.8 L604.93 122.06 L607.01 122.3 L609.04 122.52" stroke="#c0d0d8" stroke-width="13" fill="none" opacity="0.55" filter="url(#b2)"/>
<path d="M337.3 77.86 L338.1 78.68 L339.15 79.76 L340.41 81.04 L341.81 82.48 L343.31 84.01 L344.86 85.59 L346.41 87.15 L347.9 88.66 L349.29 90.04 L350.52 91.25 L351.61 92.32 L352.64 93.3 L353.62 94.22 L354.55 95.09 L355.45 95.92 L356.34 96.73 L357.23 97.53 L358.13 98.33 L359.05 99.15 L360.02 100.01 L361.02 100.89 L362.03 101.77 L363.06 102.66 L364.09 103.56 L365.13 104.45 L366.18 105.33 L367.22 106.21 L368.27 107.07 L369.31 107.93 L370.35 108.76 L371.38 109.58 L372.41 110.41 L373.45 111.23 L374.48 112.05 L375.51 112.85 L376.55 113.63 L377.58 114.39 L378.61 115.12 L379.65 115.82 L380.68 116.48 L381.71 117.11 L382.74 117.71 L383.78 118.28 L384.81 118.83 L385.84 119.35 L386.88 119.84 L387.91 120.32 L388.94 120.77 L389.97 121.21 L391.01 121.63 L392.04 122.04 L393.07 122.44 L394.11 122.82 L395.14 123.18 L396.17 123.52 L397.2 123.83 L398.24 124.11 L399.27 124.35 L400.3 124.56 L401.34 124.72 L402.37 124.85 L403.4 124.97 L404.43 125.06 L405.47 125.12 L406.5 125.15 L407.53 125.12 L408.57 125.04 L409.6 124.9 L410.63 124.7 L411.67 124.41 L412.7 124.04 L413.73 123.58 L414.76 123.04 L415.8 122.45 L416.83 121.8 L417.86 121.11 L418.9 120.4 L419.93 119.67 L420.96 118.95 L421.99 118.23 L423.03 117.52 L424.06 116.79 L425.09 116.04 L426.13 115.28 L427.16 114.49 L428.19 113.69 L429.22 112.87 L430.26 112.04 L431.29 111.18 L432.32 110.3 L433.36 109.41 L434.39 108.49 L435.42 107.55 L436.45 106.6 L437.49 105.62 L438.52 104.63 L439.55 103.63 L440.59 102.61 L441.62 101.57 L442.65 100.52 L443.69 99.45 L444.72 98.35 L445.75 97.24 L446.78 96.1 L447.82 94.95 L448.85 93.8 L449.88 92.64 L450.92 91.48 L451.95 90.33 L452.98 89.19 L454.01 88.07 L455.05 86.95 L456.08 85.83 L457.11 84.72 L458.15 83.61 L459.18 82.48 L460.21 81.35 L461.24 80.21 L462.28 79.05 L463.31 77.86 L464.34 76.64 L465.38 75.35 L466.41 74.03 L467.44 72.7 L468.47 71.36 L469.51 70.04 L470.54 68.75 L471.57 67.52 L472.61 66.37 L473.64 65.3 L474.67 64.32 L475.7 63.39 L476.74 62.52 L477.77 61.7 L478.8 60.92 L479.84 60.18 L480.87 59.48 L481.9 58.82 L482.94 58.19 L483.97 57.58 L485 57 L486.03 56.46 L487.07 55.96 L488.1 55.5 L489.13 55.07 L490.17 54.67 L491.2 54.3 L492.23 53.96 L493.26 53.65 L494.3 53.36 L495.33 53.1 L496.36 52.87 L497.4 52.68 L498.43 52.52 L499.46 52.38 L500.49 52.27 L501.53 52.18 L502.56 52.11 L503.59 52.06 L504.63 52.02 L505.66 51.98 L506.69 51.93 L507.72 51.9 L508.76 51.88 L509.79 51.89 L510.82 51.93 L511.86 52.02 L512.89 52.16 L513.92 52.36 L514.96 52.63 L515.99 52.99 L517.02 53.42 L518.05 53.91 L519.09 54.45 L520.12 55.04 L521.15 55.66 L522.19 56.31 L523.22 56.97 L524.25 57.64 L525.28 58.3 L526.32 58.95 L527.35 59.59 L528.38 60.25 L529.42 60.91 L530.45 61.6 L531.48 62.32 L532.51 63.09 L533.55 63.9 L534.58 64.77 L535.61 65.71 L536.65 66.74 L537.68 67.85 L538.71 69.03 L539.74 70.26 L540.78 71.53 L541.81 72.82 L542.84 74.12 L543.88 75.4 L544.91 76.65 L545.94 77.86 L546.98 79.05 L548.01 80.22 L549.04 81.39 L550.07 82.55 L551.11 83.71 L552.14 84.86 L553.17 86 L554.21 87.14 L555.24 88.27 L556.27 89.4 L557.3 90.52 L558.34 91.65 L559.37 92.77 L560.4 93.89 L561.44 95 L562.47 96.1 L563.5 97.18 L564.53 98.25 L565.57 99.29 L566.6 100.31 L567.63 101.32 L568.67 102.31 L569.7 103.28 L570.73 104.24 L571.76 105.18 L572.8 106.1 L573.83 107.01 L574.86 107.89 L575.9 108.75 L576.93 109.58 L577.96 110.4 L578.99 111.21 L580.03 111.99 L581.06 112.76 L582.09 113.51 L583.13 114.23 L584.16 114.92 L585.19 115.58 L586.23 116.2 L587.26 116.79 L588.26 117.34 L589.21 117.84 L590.13 118.31 L591.04 118.75 L591.97 119.16 L592.94 119.54 L593.96 119.91 L595.06 120.25 L596.26 120.59 L597.59 120.91 L599.13 121.22 L600.92 121.52 L602.88 121.8 L604.93 122.06 L607.01 122.3 L609.04 122.52 L610.94 122.72 L612.64 122.9 L614.07 123.05 L615.15 123.18" stroke="#d4e8e6" stroke-width="7.6" fill="none" filter="url(#b07)"/>
<path d="M337.3 77.86 L338.1 78.68 L339.15 79.76 L340.41 81.04 L341.81 82.48 L343.31 84.01 L344.86 85.59 L346.41 87.15 L347.9 88.66 L349.29 90.04 L350.52 91.25 L351.61 92.32 L352.64 93.3 L353.62 94.22 L354.55 95.09 L355.45 95.92 L356.34 96.73 L357.23 97.53 L358.13 98.33 L359.05 99.15 L360.02 100.01 L361.02 100.89 L362.03 101.77 L363.06 102.66 L364.09 103.56 L365.13 104.45 L366.18 105.33 L367.22 106.21 L368.27 107.07 L369.31 107.93 L370.35 108.76 L371.38 109.58 L372.41 110.41 L373.45 111.23 L374.48 112.05 L375.51 112.85 L376.55 113.63 L377.58 114.39 L378.61 115.12 L379.65 115.82 L380.68 116.48 L381.71 117.11 L382.74 117.71 L383.78 118.28 L384.81 118.83 L385.84 119.35 L386.88 119.84 L387.91 120.32 L388.94 120.77 L389.97 121.21 L391.01 121.63 L392.04 122.04 L393.07 122.44 L394.11 122.82 L395.14 123.18 L396.17 123.52 L397.2 123.83 L398.24 124.11 L399.27 124.35 L400.3 124.56 L401.34 124.72 L402.37 124.85 L403.4 124.97 L404.43 125.06 L405.47 125.12 L406.5 125.15 L407.53 125.12 L408.57 125.04 L409.6 124.9 L410.63 124.7 L411.67 124.41 L412.7 124.04 L413.73 123.58 L414.76 123.04 L415.8 122.45 L416.83 121.8 L417.86 121.11 L418.9 120.4 L419.93 119.67 L420.96 118.95 L421.99 118.23 L423.03 117.52 L424.06 116.79 L425.09 116.04 L426.13 115.28 L427.16 114.49 L428.19 113.69 L429.22 112.87 L430.26 112.04 L431.29 111.18 L432.32 110.3 L433.36 109.41 L434.39 108.49 L435.42 107.55 L436.45 106.6 L437.49 105.62 L438.52 104.63 L439.55 103.63 L440.59 102.61 L441.62 101.57 L442.65 100.52 L443.69 99.45 L444.72 98.35 L445.75 97.24 L446.78 96.1 L447.82 94.95 L448.85 93.8 L449.88 92.64 L450.92 91.48 L451.95 90.33 L452.98 89.19 L454.01 88.07 L455.05 86.95 L456.08 85.83 L457.11 84.72 L458.15 83.61 L459.18 82.48 L460.21 81.35 L461.24 80.21 L462.28 79.05 L463.31 77.86 L464.34 76.64 L465.38 75.35 L466.41 74.03 L467.44 72.7 L468.47 71.36 L469.51 70.04 L470.54 68.75 L471.57 67.52 L472.61 66.37 L473.64 65.3 L474.67 64.32 L475.7 63.39 L476.74 62.52 L477.77 61.7 L478.8 60.92 L479.84 60.18 L480.87 59.48 L481.9 58.82 L482.94 58.19 L483.97 57.58 L485 57 L486.03 56.46 L487.07 55.96 L488.1 55.5 L489.13 55.07 L490.17 54.67 L491.2 54.3 L492.23 53.96 L493.26 53.65 L494.3 53.36 L495.33 53.1 L496.36 52.87 L497.4 52.68 L498.43 52.52 L499.46 52.38 L500.49 52.27 L501.53 52.18 L502.56 52.11 L503.59 52.06 L504.63 52.02 L505.66 51.98 L506.69 51.93 L507.72 51.9 L508.76 51.88 L509.79 51.89 L510.82 51.93 L511.86 52.02 L512.89 52.16 L513.92 52.36 L514.96 52.63 L515.99 52.99 L517.02 53.42 L518.05 53.91 L519.09 54.45 L520.12 55.04 L521.15 55.66 L522.19 56.31 L523.22 56.97 L524.25 57.64 L525.28 58.3 L526.32 58.95 L527.35 59.59 L528.38 60.25 L529.42 60.91 L530.45 61.6 L531.48 62.32 L532.51 63.09 L533.55 63.9 L534.58 64.77 L535.61 65.71 L536.65 66.74 L537.68 67.85 L538.71 69.03 L539.74 70.26 L540.78 71.53 L541.81 72.82 L542.84 74.12 L543.88 75.4 L544.91 76.65 L545.94 77.86 L546.98 79.05 L548.01 80.22 L549.04 81.39 L550.07 82.55 L551.11 83.71 L552.14 84.86 L553.17 86 L554.21 87.14 L555.24 88.27 L556.27 89.4 L557.3 90.52 L558.34 91.65 L559.37 92.77 L560.4 93.89 L561.44 95 L562.47 96.1 L563.5 97.18 L564.53 98.25 L565.57 99.29 L566.6 100.31 L567.63 101.32 L568.67 102.31 L569.7 103.28 L570.73 104.24 L571.76 105.18 L572.8 106.1 L573.83 107.01 L574.86 107.89 L575.9 108.75 L576.93 109.58 L577.96 110.4 L578.99 111.21 L580.03 111.99 L581.06 112.76 L582.09 113.51 L583.13 114.23 L584.16 114.92 L585.19 115.58 L586.23 116.2 L587.26 116.79 L588.26 117.34 L589.21 117.84 L590.13 118.31 L591.04 118.75 L591.97 119.16 L592.94 119.54 L593.96 119.91 L595.06 120.25 L596.26 120.59 L597.59 120.91 L599.13 121.22 L600.92 121.52 L602.88 121.8 L604.93 122.06 L607.01 122.3 L609.04 122.52 L610.94 122.72 L612.64 122.9 L614.07 123.05 L615.15 123.18" stroke="#f4a6c8" stroke-width="3" fill="none" filter="url(#b03)"/>
<path d="M339.51 75.69 L340.31 76.51 L341.37 77.59 L342.62 78.88 L344.03 80.31 L345.53 81.84 L347.07 83.41 L348.61 84.97 L350.09 86.47 L351.47 87.84 L352.68 89.03 L353.77 90.08 L354.78 91.05 L355.74 91.96 L356.65 92.81 L357.54 93.63 L358.42 94.43 L359.29 95.22 L360.19 96.01 L361.11 96.83 L362.07 97.68 L363.06 98.56 L364.07 99.44 L365.09 100.32 L366.11 101.2 L367.14 102.09 L368.18 102.96 L369.21 103.83 L370.24 104.68 L371.26 105.52 L372.29 106.34 L373.32 107.16 L374.35 107.99 L375.37 108.8 L376.39 109.6 L377.4 110.38 L378.4 111.14 L379.39 111.87 L380.38 112.57 L381.35 113.23 L382.32 113.85 L383.29 114.45 L384.27 115.01 L385.25 115.55 L386.23 116.07 L387.21 116.57 L388.2 117.04 L389.18 117.49 L390.17 117.93 L391.16 118.35 L392.16 118.75 L393.16 119.15 L394.17 119.53 L395.16 119.9 L396.13 120.24 L397.1 120.56 L398.06 120.85 L399 121.1 L399.93 121.32 L400.85 121.51 L401.77 121.65 L402.74 121.78 L403.71 121.89 L404.66 121.97 L405.59 122.03 L406.5 122.05 L407.38 122.02 L408.24 121.96 L409.09 121.85 L409.91 121.68 L410.73 121.46 L411.54 121.16 L412.39 120.79 L413.27 120.33 L414.2 119.79 L415.15 119.19 L416.12 118.55 L417.12 117.86 L418.15 117.14 L419.19 116.41 L420.23 115.68 L421.25 114.98 L422.26 114.27 L423.26 113.54 L424.27 112.8 L425.27 112.03 L426.28 111.25 L427.29 110.46 L428.29 109.64 L429.3 108.8 L430.3 107.95 L431.31 107.08 L432.32 106.18 L433.33 105.27 L434.34 104.33 L435.35 103.38 L436.37 102.41 L437.38 101.42 L438.4 100.41 L439.42 99.39 L440.43 98.36 L441.44 97.31 L442.45 96.24 L443.47 95.14 L444.49 94.02 L445.51 92.88 L446.54 91.73 L447.57 90.58 L448.61 89.42 L449.65 88.26 L450.69 87.1 L451.73 85.97 L452.77 84.84 L453.81 83.72 L454.84 82.61 L455.87 81.5 L456.89 80.39 L457.92 79.27 L458.94 78.14 L459.95 77 L460.96 75.85 L461.95 74.67 L462.95 73.43 L463.96 72.13 L464.99 70.8 L466.03 69.46 L467.08 68.11 L468.15 66.79 L469.23 65.5 L470.34 64.26 L471.46 63.1 L472.57 62.04 L473.67 61.05 L474.77 60.12 L475.87 59.24 L476.97 58.42 L478.07 57.64 L479.16 56.9 L480.25 56.2 L481.34 55.53 L482.42 54.89 L483.53 54.27 L484.64 53.69 L485.76 53.15 L486.87 52.65 L487.98 52.19 L489.09 51.76 L490.19 51.37 L491.29 51 L492.39 50.67 L493.5 50.36 L494.62 50.08 L495.75 49.83 L496.87 49.62 L497.99 49.45 L499.1 49.31 L500.2 49.19 L501.29 49.09 L502.37 49.02 L503.45 48.96 L504.5 48.92 L505.54 48.88 L506.58 48.84 L507.64 48.8 L508.74 48.78 L509.86 48.79 L511.02 48.84 L512.19 48.94 L513.4 49.1 L514.62 49.34 L515.86 49.67 L517.09 50.09 L518.28 50.58 L519.44 51.14 L520.58 51.74 L521.69 52.37 L522.78 53.02 L523.84 53.69 L524.89 54.36 L525.93 55.03 L526.94 55.68 L527.96 56.32 L529 56.97 L530.05 57.63 L531.12 58.32 L532.2 59.04 L533.29 59.81 L534.4 60.62 L535.51 61.5 L536.63 62.44 L537.75 63.47 L538.87 64.58 L539.98 65.77 L541.07 67.01 L542.14 68.29 L543.19 69.58 L544.23 70.89 L545.26 72.18 L546.28 73.44 L547.29 74.66 L548.29 75.84 L549.31 77 L550.33 78.17 L551.36 79.33 L552.39 80.49 L553.42 81.64 L554.44 82.78 L555.47 83.92 L556.5 85.05 L557.53 86.18 L558.55 87.3 L559.59 88.43 L560.62 89.55 L561.65 90.67 L562.68 91.78 L563.7 92.88 L564.72 93.97 L565.74 95.03 L566.75 96.08 L567.76 97.1 L568.77 98.1 L569.78 99.09 L570.8 100.06 L571.82 101.02 L572.83 101.96 L573.84 102.88 L574.85 103.78 L575.86 104.66 L576.86 105.52 L577.86 106.35 L578.87 107.16 L579.88 107.96 L580.89 108.75 L581.89 109.52 L582.89 110.26 L583.89 110.98 L584.88 111.67 L585.86 112.33 L586.83 112.95 L587.79 113.53 L588.77 114.08 L589.73 114.61 L590.64 115.09 L591.5 115.53 L592.34 115.93 L593.17 116.3 L594.03 116.64 L594.94 116.97 L595.94 117.28 L597.04 117.59 L598.26 117.88 L599.69 118.17 L601.39 118.45 L603.29 118.73 L605.31 118.98 L607.36 119.22 L609.37 119.44 L611.26 119.64 L612.97 119.81 L614.41 119.97 L615.51 120.1" stroke="#000" stroke-width="1.3" stroke-dasharray="1.3 1.1" fill="none"/>
<path d="M335.09 80.04 L335.89 80.85 L336.94 81.93 L338.19 83.21 L339.6 84.65 L341.1 86.18 L342.65 87.76 L344.2 89.34 L345.7 90.85 L347.1 92.24 L348.35 93.47 L349.46 94.55 L350.51 95.55 L351.49 96.48 L352.44 97.36 L353.36 98.21 L354.26 99.03 L355.16 99.83 L356.07 100.65 L357 101.47 L357.97 102.33 L358.97 103.22 L360 104.11 L361.03 105.01 L362.07 105.91 L363.12 106.81 L364.18 107.7 L365.24 108.59 L366.3 109.47 L367.36 110.33 L368.41 111.18 L369.45 112.01 L370.48 112.83 L371.52 113.66 L372.57 114.49 L373.63 115.31 L374.69 116.11 L375.77 116.9 L376.85 117.67 L377.94 118.41 L379.03 119.11 L380.13 119.78 L381.22 120.41 L382.3 121.01 L383.39 121.58 L384.47 122.13 L385.56 122.65 L386.63 123.15 L387.71 123.62 L388.79 124.07 L389.85 124.51 L390.92 124.93 L391.98 125.34 L393.06 125.73 L394.14 126.11 L395.24 126.47 L396.35 126.81 L397.47 127.11 L398.61 127.38 L399.76 127.61 L400.9 127.79 L402 127.93 L403.09 128.05 L404.21 128.15 L405.34 128.22 L406.5 128.25 L407.69 128.22 L408.89 128.13 L410.11 127.96 L411.35 127.71 L412.6 127.37 L413.86 126.91 L415.08 126.37 L416.25 125.76 L417.4 125.1 L418.51 124.4 L419.6 123.68 L420.67 122.94 L421.71 122.21 L422.74 121.49 L423.76 120.78 L424.8 120.06 L425.86 119.31 L426.92 118.54 L427.98 117.76 L429.04 116.95 L430.1 116.13 L431.16 115.29 L432.22 114.43 L433.28 113.55 L434.34 112.66 L435.4 111.74 L436.46 110.8 L437.52 109.84 L438.57 108.86 L439.62 107.87 L440.68 106.86 L441.73 105.84 L442.77 104.8 L443.82 103.75 L444.87 102.68 L445.93 101.59 L446.98 100.47 L448.04 99.33 L449.08 98.18 L450.12 97.02 L451.16 95.86 L452.2 94.7 L453.22 93.55 L454.25 92.41 L455.27 91.28 L456.3 90.16 L457.32 89.05 L458.35 87.94 L459.39 86.83 L460.42 85.71 L461.46 84.58 L462.51 83.44 L463.55 82.28 L464.6 81.1 L465.66 79.88 L466.74 78.61 L467.8 77.28 L468.86 75.94 L469.9 74.59 L470.92 73.26 L471.94 71.96 L472.94 70.72 L473.92 69.55 L474.88 68.48 L475.82 67.5 L476.78 66.59 L477.74 65.73 L478.7 64.91 L479.67 64.15 L480.64 63.42 L481.6 62.73 L482.58 62.07 L483.55 61.45 L484.53 60.84 L485.51 60.27 L486.47 59.73 L487.43 59.23 L488.38 58.77 L489.33 58.34 L490.29 57.94 L491.25 57.57 L492.21 57.23 L493.17 56.91 L494.13 56.62 L495.09 56.35 L496.04 56.11 L496.97 55.91 L497.92 55.74 L498.87 55.59 L499.83 55.46 L500.79 55.36 L501.77 55.27 L502.75 55.21 L503.74 55.16 L504.75 55.11 L505.78 55.07 L506.81 55.03 L507.81 55 L508.77 54.98 L509.72 54.99 L510.63 55.02 L511.52 55.1 L512.38 55.22 L513.22 55.38 L514.05 55.6 L514.89 55.89 L515.76 56.25 L516.66 56.68 L517.6 57.17 L518.55 57.72 L519.53 58.31 L520.53 58.93 L521.54 59.58 L522.58 60.25 L523.62 60.92 L524.67 61.57 L525.7 62.22 L526.72 62.86 L527.72 63.5 L528.7 64.16 L529.67 64.84 L530.63 65.55 L531.59 66.3 L532.53 67.1 L533.48 67.96 L534.42 68.89 L535.38 69.93 L536.36 71.05 L537.35 72.24 L538.37 73.48 L539.39 74.76 L540.42 76.05 L541.47 77.36 L542.53 78.64 L543.6 79.89 L544.64 81.09 L545.68 82.27 L546.72 83.45 L547.76 84.61 L548.8 85.78 L549.84 86.93 L550.87 88.08 L551.91 89.23 L552.95 90.37 L553.99 91.5 L555.02 92.62 L556.05 93.75 L557.09 94.87 L558.13 96 L559.17 97.12 L560.22 98.23 L561.27 99.33 L562.32 100.41 L563.37 101.48 L564.43 102.53 L565.48 103.55 L566.53 104.55 L567.58 105.54 L568.63 106.52 L569.69 107.48 L570.75 108.43 L571.8 109.35 L572.87 110.26 L573.93 111.14 L574.99 112 L576.05 112.84 L577.1 113.66 L578.16 114.47 L579.23 115.26 L580.3 116.04 L581.38 116.79 L582.46 117.51 L583.56 118.21 L584.66 118.88 L585.75 119.5 L586.79 120.07 L587.77 120.59 L588.75 121.09 L589.75 121.57 L590.77 122.02 L591.84 122.45 L592.97 122.85 L594.18 123.23 L595.48 123.59 L596.92 123.94 L598.57 124.27 L600.45 124.58 L602.46 124.87 L604.56 125.14 L606.67 125.38 L608.71 125.6 L610.62 125.8 L612.32 125.98 L613.73 126.13 L614.79 126.25" stroke="#000" stroke-width="1.3" stroke-dasharray="1.3 1.1" fill="none"/>
<path d="M440 118 L505 60 L512 58" stroke="#c4c2c8" stroke-width="0.8" fill="none"/>
<path d="M426 118 L509.2 60 L514 58.5" stroke="#c4c2c8" stroke-width="0.8" fill="none"/>
<path d="M415 129 L538.8 78.4" stroke="#c4c2c8" stroke-width="0.8" fill="none"/>
<path d="M415 129 L569 111.3" stroke="#c4c2c8" stroke-width="0.8" fill="none"/>
<path d="M415 129.5 L593 129" stroke="#c4c2c8" stroke-width="0.8" fill="none"/>
<path d="M415 130 L605 146.7" stroke="#c4c2c8" stroke-width="0.8" fill="none"/>
<path d="M339.55 81.88 L340.95 83.32 L342.46 84.85 L344.01 86.43 L345.56 88 L347.05 89.5 L348.44 90.89 L349.68 92.11 L350.78 93.18 L351.82 94.17 L352.79 95.09 L353.73 95.97 L354.64 96.8 L355.53 97.62 L356.42 98.42 L357.33 99.23 L358.26 100.05 L359.23 100.91 L360.23 101.79 L361.24 102.68 L362.27 103.58 L363.29 104.49 L364.31 105.42 L365.32 106.35 L366.33 107.28 L367.33 108.21 L368.33 109.14 L369.3 110.06 L370.27 110.98 L371.23 111.9 L372.18 112.83 L373.14 113.76 L374.1 114.69 L375.06 115.61 L376.04 116.53 L377.02 117.42 L378.01 118.3 L379.01 119.15 L380.02 119.96 L381.02 120.75 L382.03 121.51 L383.04 122.25 L384.06 122.96 L385.08 123.65 L386.11 124.32 L387.13 124.96 L388.16 125.58 L389.19 126.18 L390.21 126.75 L391.24 127.32 L392.29 127.86 L393.37 128.39 L394.48 128.9 L395.62 129.37 L396.79 129.81 L397.99 130.21 L399.24 130.55 L400.46 130.83 L401.62 131.05 L402.77 131.24 L403.97 131.4 L405.21 131.5 L406.51 131.54 L407.85 131.51 L409.24 131.41 L410.66 131.22 L412.11 130.92 L413.6 130.51 L418.5 128.2 L450 121.8 L553.8 94.6" stroke="#28e028" stroke-width="2" fill="none"/>
<path d="M411 122.7 L548 85.4" stroke="#30e030" stroke-width="2.2" stroke-dasharray="2 2.6" fill="none"/>
<path d="M412 131 L415.7 129.1 L420.3 124.5 L450 113.5 L480 96.9 L527.3 69.2" stroke="#f8e018" stroke-width="1.6" fill="none"/>
<path d="M421.2 118 L525 58.8" stroke="#f8e018" stroke-width="2.6" stroke-dasharray="2.4 2.4" fill="none"/>
<path d="M416 128 L424 123.6 L443.8 110 L480 79.6 L500 62.8 L508.3 57.6 L516 58.8" stroke="#ff1a1a" stroke-width="1.7" fill="none"/>
<path d="M436.9 106.8 L490.4 54.2" stroke="#ff1010" stroke-width="2.4" stroke-dasharray="2.2 2.6" fill="none"/>
<g transform="matrix(1.0329 0 0 1.0298 320.77 -0.4)">
<path d="M31 3 V166 M128.9 3 V166 M227.6 3 V166" stroke="#1e78e8" stroke-width="1.2" fill="none" opacity="0.9"/>
<path d="M133.3 2 C133.58 5 134.22 14.58 135 20 C135.78 25.42 136.5 30.5 138 34.5 C139.5 38.5 141.57 42.03 144 44 C146.43 45.97 149.15 46.43 152.6 46.3 C156.05 46.17 160.67 44.1 164.7 43.2 C168.73 42.3 171.92 40.9 176.8 40.9 C181.68 40.9 188.8 42.38 194 43.2 C199.2 44.02 204.25 46.08 208 45.8 C211.75 45.52 214.35 44.8 216.5 41.5 C218.65 38.2 219.88 32.58 220.9 26 C221.92 19.42 222.32 6 222.6 2" stroke="#1e78e8" stroke-width="1.2" fill="none" opacity="0.9"/>
<path d="M35.3 166 C35.82 162.4 37.17 149.88 38.4 144.4 C39.63 138.92 40.68 135.83 42.7 133.1 C44.72 130.37 47.2 128.57 50.5 128 C53.8 127.43 58.18 128.98 62.5 129.7 C66.82 130.42 72.08 131.93 76.4 132.3 C80.72 132.67 84.08 132.53 88.4 131.9 C92.72 131.27 98.12 129.45 102.3 128.5 C106.48 127.55 110.92 125.72 113.5 126.2 C116.08 126.68 116.5 128.37 117.8 131.4 C119.1 134.43 120.28 138.63 121.3 144.4 C122.32 150.17 123.47 162.4 123.9 166" stroke="#1e78e8" stroke-width="1.2" fill="none" opacity="0.9"/>
<path d="M232.2 166 C232.57 161.73 233.4 146.4 234.4 140.4 C235.4 134.4 236.45 132.37 238.2 130 C239.95 127.63 241.78 126.7 244.9 126.2 C248.02 125.7 253.15 126.37 256.9 127 C260.65 127.63 264.22 129.07 267.4 130 C270.58 130.93 274.57 132.17 276 132.6" stroke="#1e78e8" stroke-width="1.2" fill="none" opacity="0.9"/>
<path d="M31 3 V166 M128.9 3 V166 M227.6 3 V166" stroke="#20d0d8" stroke-width="1.3" stroke-dasharray="1 1" fill="none"/>
<path d="M133.3 2 C133.58 5 134.22 14.58 135 20 C135.78 25.42 136.5 30.5 138 34.5 C139.5 38.5 141.57 42.03 144 44 C146.43 45.97 149.15 46.43 152.6 46.3 C156.05 46.17 160.67 44.1 164.7 43.2 C168.73 42.3 171.92 40.9 176.8 40.9 C181.68 40.9 188.8 42.38 194 43.2 C199.2 44.02 204.25 46.08 208 45.8 C211.75 45.52 214.35 44.8 216.5 41.5 C218.65 38.2 219.88 32.58 220.9 26 C221.92 19.42 222.32 6 222.6 2" stroke="#20d0d8" stroke-width="1.3" stroke-dasharray="1 1" fill="none"/>
<path d="M35.3 166 C35.82 162.4 37.17 149.88 38.4 144.4 C39.63 138.92 40.68 135.83 42.7 133.1 C44.72 130.37 47.2 128.57 50.5 128 C53.8 127.43 58.18 128.98 62.5 129.7 C66.82 130.42 72.08 131.93 76.4 132.3 C80.72 132.67 84.08 132.53 88.4 131.9 C92.72 131.27 98.12 129.45 102.3 128.5 C106.48 127.55 110.92 125.72 113.5 126.2 C116.08 126.68 116.5 128.37 117.8 131.4 C119.1 134.43 120.28 138.63 121.3 144.4 C122.32 150.17 123.47 162.4 123.9 166" stroke="#20d0d8" stroke-width="1.3" stroke-dasharray="1 1" fill="none"/>
<path d="M232.2 166 C232.57 161.73 233.4 146.4 234.4 140.4 C235.4 134.4 236.45 132.37 238.2 130 C239.95 127.63 241.78 126.7 244.9 126.2 C248.02 125.7 253.15 126.37 256.9 127 C260.65 127.63 264.22 129.07 267.4 130 C270.58 130.93 274.57 132.17 276 132.6" stroke="#20d0d8" stroke-width="1.3" stroke-dasharray="1 1" fill="none"/>
</g>
</g>
<clipPath id="clipC"><rect x="28.8" y="237.3" width="248.6" height="150.1"/></clipPath>
<g clip-path="url(#clipC)">
<path d="M100 290 C105 290.5 121.67 292 130 293 C138.33 294 143.33 296.92 150 296 C156.67 295.08 165 289.17 170 287.5 C175 285.83 178.33 286.25 180 286" stroke="#b8b8b8" stroke-width="1.15" fill="none"/>
<path d="M96 291 C100.83 291.83 114.67 293.83 125 296 C135.33 298.17 148 304 158 304 C168 304 178 298.33 185 296 C192 293.67 197.5 291 200 290" stroke="#b8b8b8" stroke-width="1.15" fill="none"/>
<path d="M94 292 C99.17 293.83 113.67 299 125 303 C136.33 307 151.17 315.67 162 316 C172.83 316.33 182.33 309.33 190 305 C197.67 300.67 205 292.5 208 290" stroke="#b8b8b8" stroke-width="1.15" fill="none"/>
<path d="M92 294 C98.33 297.5 117.5 308.17 130 315 C142.5 321.83 155.33 334.17 167 335 C178.67 335.83 190.68 327.5 200 320 C209.32 312.5 219.08 295 222.9 290" stroke="#b8b8b8" stroke-width="1.15" fill="none"/>
<path d="M92 296 C98.33 301 116.67 315.67 130 326 C143.33 336.33 158.67 355.5 172 358 C185.33 360.5 198.55 352.33 210 341 C221.45 329.67 235.58 298.5 240.7 290" stroke="#b8b8b8" stroke-width="1.15" fill="none"/>
<path d="M92 297 C98.33 303 116.33 321 130 333 C143.67 345 159.83 365.83 174 369 C188.17 372.17 201.77 364.67 215 352 C228.23 339.33 247 302.83 253.4 293" stroke="#b8b8b8" stroke-width="1.15" fill="none"/>
<path d="M92 298 C98.33 304.83 116 325.33 130 339 C144 352.67 160.17 377 176 380 C191.83 383 210.42 370.33 225 357 C239.58 343.67 254.67 310.17 263.5 300 C272.33 289.83 275.58 296.67 278 296" stroke="#b8b8b8" stroke-width="1.15" fill="none"/>
<path d="M160 388 C165.83 386.28 183.33 383.2 195 377.7 C206.67 372.2 220 362.95 230 355 C240 347.05 247 337 255 330 C263 323 274.17 315.83 278 313" stroke="#b8b8b8" stroke-width="1.15" fill="none"/>
<path d="M200 290.23 L202 289.28 L204 290.62 L206 289.57 L208 290.33 L210 289.73 L212 288.81 L214 291.19 L216 288.97 L218 290.17 L220 290.5 L222 289.63 L224 291.06 L226 289.17 L228 290.88 L230 289.16 L232 290.17 L234 290.85 L236 289.32 L238 291.09 L240 289.54 L242 289.82 L244 290.39 L246 289.63 L248 290.5 L250 288.65 L252 291.05 L254 289.71 L256 290.1 L258 291 L260 289.49 L262 291.28 L264 289.32 L266 290.54 L268 290.18 L270 289.92 L272 291.24 L274 288.77 L276 290.05 L278 289.57" stroke="#b8b8b8" stroke-width="1.15" fill="none"/>
<path d="M240 320 C243.33 317.17 253.67 306.33 260 303 C266.33 299.67 275 300.5 278 300" stroke="#b8b8b8" stroke-width="1.15" fill="none"/>
<path d="M28.8 278.6 H277.4 M28.8 285.5 H277.4" stroke="#8a5555" stroke-width="1" fill="none"/>
<path d="M28.8 280 C32.33 283.17 41.53 293.17 50 299 C58.47 304.83 70.43 314.5 79.6 315 C88.77 315.5 96.6 308.67 105 302 C113.4 295.33 121.67 283 130 275 C138.33 267 146.67 258.42 155 254 C163.33 249.58 171.17 247.45 180 248.5 C188.83 249.55 199.53 254.95 208 260.3 C216.47 265.65 223.18 273.42 230.8 280.6 C238.42 287.78 246.93 298.33 253.7 303.4 C260.47 308.47 267.02 309.65 271.4 311 C275.78 312.35 278.57 311.42 280 311.5" stroke="#f040f0" stroke-width="0.9" stroke-dasharray="3 1.5 1 1.5" fill="none"/>
<path d="M30.6 239 V388 M130.3 239 V388 M230.4 239 V388" stroke="#18e4f4" stroke-width="2.6" stroke-dasharray="2.4 2.2" fill="none"/>
<path d="M35.2 390 C35.5 385 36.17 369.87 37 360 C37.83 350.13 37.97 339.9 40.2 330.8 C42.43 321.7 46.17 311.12 50.4 305.4 C54.63 299.68 60.1 298.2 65.6 296.5 C71.1 294.8 77.48 294.98 83.4 295.2 C89.32 295.42 95.6 295.25 101.1 297.8 C106.6 300.35 112.58 304.17 116.4 310.5 C120.22 316.83 122.35 327.55 124 335.8 C125.65 344.05 125.83 350.97 126.3 360 C126.77 369.03 126.72 385 126.8 390" stroke="#18e4f4" stroke-width="2.6" stroke-dasharray="2.4 2.2" fill="none"/>
<path d="M139.8 237 C140.67 239.5 142.47 247.67 145 252 C147.53 256.33 149.33 260.27 155 263 C160.67 265.73 172.28 268 179 268.4 C185.72 268.8 190.47 267.17 195.3 265.4 C200.13 263.63 203.98 262.2 208 257.8 C212.02 253.4 217.5 242.13 219.4 239" stroke="#18e4f4" stroke-width="2.6" stroke-dasharray="2.4 2.2" fill="none"/>
<path d="M234.4 390 C234.67 385.83 235.33 372.5 236 365 C236.67 357.5 236.77 353.67 238.4 345 C240.03 336.33 242.88 320.03 245.8 313 C248.72 305.97 252.48 305.23 255.9 302.8 C259.32 300.37 262.28 299.57 266.3 298.4 C270.32 297.23 277.72 296.23 280 295.8" stroke="#18e4f4" stroke-width="2.6" stroke-dasharray="2.4 2.2" fill="none"/>
<path d="M96 289 C99.17 290.5 108.5 293.83 115 298 C121.5 302.17 127.1 309.92 135 314 C142.9 318.08 154.07 322.5 162.4 322.5 C170.73 322.5 177.82 319.08 185 314 C192.18 308.92 202.08 295.67 205.5 292" stroke="#e8a010" stroke-width="1.6" fill="none"/>
<path d="M100 291 C103.33 293 113.33 298.5 120 303 C126.67 307.5 133 314.33 140 318 C147 321.67 154 325.33 162 325 C170 324.67 179.9 323.4 188 316 C196.1 308.6 206.83 286.5 210.6 280.6" stroke="#f0a818" stroke-width="2.6" stroke-dasharray="2 2" fill="none"/>
<path d="M121 307.3 C126.07 308.23 143.57 312.67 151.4 312.9 C159.23 313.13 162.15 312.82 168 308.7 C173.85 304.58 183.42 291.62 186.5 288.2" stroke="#ff1010" stroke-width="2" stroke-dasharray="2 2.2" fill="none"/>
<path d="M92.8 295 C98.13 298 115.27 306.33 124.8 313 C134.33 319.67 142.35 329.27 150 335 C157.65 340.73 162.37 347.73 170.7 347.4 C179.03 347.07 190.18 342.02 200 333 C209.82 323.98 224.67 299.92 229.6 293.3" stroke="#6aa020" stroke-width="2" fill="none"/>
<path d="M88 295.6 C93.83 298.67 112.67 307.27 123 314 C133.33 320.73 142.05 330.27 150 336 C157.95 341.73 162.37 348.73 170.7 348.4 C179.03 348.07 190.18 343.18 200 334 C209.82 324.82 224.67 300.08 229.6 293.3" stroke="#000" stroke-width="2.4" stroke-dasharray="2 2" fill="none"/>
<path d="M28.5 282.5 C34.2 283.32 51.98 285.97 62.7 287.4 C73.42 288.83 87 290.88 92.8 291.1 C98.6 291.32 94.05 288.48 97.5 288.7 C100.95 288.92 106.37 290.68 113.5 292.4 C120.63 294.12 133.07 297.57 140.3 299 C147.53 300.43 152.28 301.45 156.9 301 C161.52 300.55 163.85 298.33 168 296.3 C172.15 294.27 178.47 289.93 181.8 288.8 C185.13 287.67 185.7 289.4 188 289.5 C190.3 289.6 193.1 289.4 195.6 289.4 C198.1 289.4 201.77 289.48 203 289.5" stroke="#f41010" stroke-width="2" fill="none"/>
<path d="M28.5 281.2 C30.42 281.72 35.08 283.58 40 284.3 C44.92 285.02 53 285.1 58 285.5 C63 285.9 66.55 286.28 70 286.7 C73.45 287.12 77.25 287.78 78.7 288" stroke="#101010" stroke-width="2" fill="none"/>
</g>
<line x1="28.8" y1="239.3" x2="28.8" y2="387.6" stroke="#888" stroke-width="0.8"/>
<line x1="28.8" y1="387.4" x2="277.5" y2="387.4" stroke="#888" stroke-width="0.8"/>
<path d="M39.5 387.4 V385.5 M79.6 387.4 V385.5 M120.2 387.4 V385.5 M160.8 387.4 V385.5 M201.3 387.4 V385.5 M241.8 387.4 V385.5" stroke="#888" stroke-width="0.6"/>
<clipPath id="clipD"><rect x="350.6" y="237.3" width="248" height="150.1"/></clipPath>
<g clip-path="url(#clipD)">
<path d="M430 289 C434.17 289.67 447.5 291.83 455 293 C462.5 294.17 468.83 296.83 475 296 C481.17 295.17 487.83 289.5 492 288 C496.17 286.5 498.67 287.17 500 287" stroke="#b8b8b8" stroke-width="1.15" fill="none"/>
<path d="M418 291 C423.33 292.5 439.67 296.83 450 300 C460.33 303.17 470.83 310 480 310 C489.17 310 498.33 303.33 505 300 C511.67 296.67 517.5 291.67 520 290" stroke="#b8b8b8" stroke-width="1.15" fill="none"/>
<path d="M414 294 C420 298.33 438.17 310.67 450 320 C461.83 329.33 474.17 346.67 485 350 C495.83 353.33 505.5 350 515 340 C524.5 330 537.5 298.33 542 290" stroke="#b8b8b8" stroke-width="1.15" fill="none"/>
<path d="M414 296 C420 301.67 437.33 318.95 450 330 C462.67 341.05 477.5 359.3 490 362.3 C502.5 365.3 513.33 359.55 525 348 C536.67 336.45 554.17 302.17 560 293" stroke="#b8b8b8" stroke-width="1.15" fill="none"/>
<path d="M414 298 C420 304.67 437 325.9 450 338 C463 350.1 477.83 367.77 492 370.6 C506.17 373.43 521.17 366.27 535 355 C548.83 343.73 564.17 312.67 575 303 C585.83 293.33 595.83 298 600 297" stroke="#b8b8b8" stroke-width="1.15" fill="none"/>
<path d="M482 388 C487.83 386.28 505.33 383.2 517 377.7 C528.67 372.2 542 362.95 552 355 C562 347.05 569 337 577 330 C585 323 596.17 315.83 600 313" stroke="#b8b8b8" stroke-width="1.15" fill="none"/>
<path d="M505 290.93 L507 289.75 L509 291.19 L511 289.27 L513 290.93 L515 289.9 L517 289.96 L519 290.94 L521 289.63 L523 291.56 L525 289.96 L527 291 L529 290.97 L531 290.29 L533 291.29 L535 289.15 L537 291.23 L539 290.76 L541 290.46 L543 291.04 L545 289.76 L547 290.67 L549 290.27 L551 290.4 L553 290.44 L555 289.08 L557 291.52 L559 290.22 L561 290.15 L563 290.73 L565 289.72 L567 290.62 L569 289.26 L571 291.24 L573 290.48 L575 289.59 L577 290.98 L579 288.99 L581 291.34 L583 289.54 L585 290.94 L587 291.12 L589 289.71 L591 291.69 L593 289.32 L595 290.29 L597 290.32 L599 289.42" stroke="#b8b8b8" stroke-width="1.15" fill="none"/>
<path d="M562 320 C565.33 317.17 575.67 306.33 582 303 C588.33 299.67 597 300.5 600 300" stroke="#b8b8b8" stroke-width="1.15" fill="none"/>
<path d="M350.6 278.7 H598.6 M350.6 285.5 H598.6" stroke="#8a5555" stroke-width="1" fill="none"/>
<path d="M350.3 280 C353.83 283.17 363.03 293.17 371.5 299 C379.97 304.83 391.93 314.5 401.1 315 C410.27 315.5 418.1 308.67 426.5 302 C434.9 295.33 443.17 283 451.5 275 C459.83 267 468.17 258.42 476.5 254 C484.83 249.58 492.67 247.45 501.5 248.5 C510.33 249.55 521.03 254.95 529.5 260.3 C537.97 265.65 544.68 273.42 552.3 280.6 C559.92 287.78 568.43 298.33 575.2 303.4 C581.97 308.47 588.52 309.65 592.9 311 C597.28 312.35 600.07 311.42 601.5 311.5" stroke="#f040f0" stroke-width="0.9" stroke-dasharray="3 1.5 1 1.5" fill="none"/>
<path d="M351.8 239 V388 M451.6 239 V388 M551.8 239 V388" stroke="#1cb8d0" stroke-width="2" stroke-dasharray="1.6 1.6" fill="none"/>
<path d="M356.7 390 C357 385 357.67 369.87 358.5 360 C359.33 350.13 359.47 339.9 361.7 330.8 C363.93 321.7 367.67 311.12 371.9 305.4 C376.13 299.68 381.6 298.2 387.1 296.5 C392.6 294.8 398.98 294.98 404.9 295.2 C410.82 295.42 417.1 295.25 422.6 297.8 C428.1 300.35 434.08 304.17 437.9 310.5 C441.72 316.83 443.85 327.55 445.5 335.8 C447.15 344.05 447.33 350.97 447.8 360 C448.27 369.03 448.22 385 448.3 390" stroke="#1cb8d0" stroke-width="2" stroke-dasharray="1.6 1.6" fill="none"/>
<path d="M461.3 237 C462.17 239.5 463.97 247.67 466.5 252 C469.03 256.33 470.83 260.27 476.5 263 C482.17 265.73 493.78 268 500.5 268.4 C507.22 268.8 511.97 267.17 516.8 265.4 C521.63 263.63 525.48 262.2 529.5 257.8 C533.52 253.4 539 242.13 540.9 239" stroke="#1cb8d0" stroke-width="2" stroke-dasharray="1.6 1.6" fill="none"/>
<path d="M555.9 390 C556.17 385.83 556.83 372.5 557.5 365 C558.17 357.5 558.27 353.67 559.9 345 C561.53 336.33 564.38 320.03 567.3 313 C570.22 305.97 573.98 305.23 577.4 302.8 C580.82 300.37 583.78 299.57 587.8 298.4 C591.82 297.23 599.22 296.23 601.5 295.8" stroke="#1cb8d0" stroke-width="2" stroke-dasharray="1.6 1.6" fill="none"/>
<path d="M435.2 281.6 C440.03 282.15 455.45 285.18 464.2 284.9 C472.95 284.62 483.78 280.73 487.7 279.9" stroke="#f01010" stroke-width="1.8" stroke-dasharray="5 1.8 1.2 1.8" fill="none"/>
<path d="M419.4 282.1 C422.83 283.75 432.98 288.32 440 292 C447.02 295.68 454.23 301.47 461.5 304.2 C468.77 306.93 476.7 309.1 483.6 308.4 C490.5 307.7 496.45 304.62 502.9 300 C509.35 295.38 519.07 283.92 522.3 280.7" stroke="#f0b020" stroke-width="1.8" stroke-dasharray="5 1.8 1.2 1.8" fill="none"/>
<path d="M419.4 289 C422.17 290.83 429.9 295.85 436 300 C442.1 304.15 448.07 310.33 456 313.9 C463.93 317.47 475.32 321.63 483.6 321.4 C491.88 321.17 499.32 316.92 505.7 312.5 C512.08 308.08 519.2 297.83 521.9 294.9" stroke="#f0b020" stroke-width="1.8" fill="none"/>
<path d="M409 281.7 C413.4 284.12 426.65 289.45 435.4 296.2 C444.15 302.95 452.08 315.8 461.5 322.2 C470.92 328.6 482.68 333.9 491.9 334.6 C501.12 335.3 508.78 332.83 516.8 326.4 C524.82 319.97 534.73 303.37 540 296 C545.27 288.63 547 284.5 548.4 282.2" stroke="#10901a" stroke-width="2" stroke-dasharray="5 1.8 1.2 1.8" fill="none"/>
<path d="M416.6 291.5 C421 294.95 435.52 305.7 443 312.2 C450.48 318.7 452.9 324.68 461.5 330.5 C470.1 336.32 484.93 345.72 494.6 347.1 C504.27 348.48 511.93 345.02 519.5 338.8 C527.07 332.58 535.18 317.12 540 309.8 C544.82 302.48 547 297.38 548.4 294.9" stroke="#10901a" stroke-width="2.2" fill="none"/>
<path d="M350.6 282.5 C355.95 283.22 372.02 285.37 382.7 286.8 C393.38 288.23 408.58 290.78 414.7 291.1 C420.82 291.42 415.32 288 419.4 288.7 C423.48 289.4 434.03 294.08 439.2 295.3 C444.37 296.52 444.38 295.07 450.4 296 C456.42 296.93 467.93 301.47 475.3 300.9 C482.67 300.33 491.38 293.98 494.6 292.6" stroke="#f41010" stroke-width="2.2" fill="none"/>
</g>
<line x1="350.8" y1="239.3" x2="350.8" y2="387.6" stroke="#b4b4b4" stroke-width="1.8"/>
<line x1="350.8" y1="387.4" x2="598.7" y2="387.4" stroke="#888" stroke-width="0.8"/>
<path d="M361 387.4 V385.5 M401.5 387.4 V385.5 M442 387.4 V385.5 M482.5 387.4 V385.5 M523.5 387.4 V385.5 M564 387.4 V385.5" stroke="#888" stroke-width="0.6"/>
<rect x="279.5" y="4" width="12.8" height="159.7" fill="url(#cmapA)" stroke="#777" stroke-width="0.5"/>
<g class="t" text-anchor="end">
<text x="28" y="8.3" textLength="13.7" lengthAdjust="spacingAndGlyphs">600</text><text x="28" y="43.5" textLength="13.7" lengthAdjust="spacingAndGlyphs">400</text><text x="28" y="78.8" textLength="13.7" lengthAdjust="spacingAndGlyphs">200</text><text x="28" y="114.0" textLength="4.6" lengthAdjust="spacingAndGlyphs">0</text><text x="28" y="149.3" textLength="16.5" lengthAdjust="spacingAndGlyphs">-200</text>
</g>
<g class="t" text-anchor="start">
<text x="294" y="11.5" textLength="7.3" lengthAdjust="spacingAndGlyphs">-2</text><text x="294" y="36" textLength="7.3" lengthAdjust="spacingAndGlyphs">-4</text><text x="294" y="59.5" textLength="7.3" lengthAdjust="spacingAndGlyphs">-6</text><text x="294" y="83.5" textLength="7.3" lengthAdjust="spacingAndGlyphs">-8</text><text x="294" y="107.7" textLength="11.9" lengthAdjust="spacingAndGlyphs">-10</text><text x="294" y="131.5" textLength="11.9" lengthAdjust="spacingAndGlyphs">-12</text><text x="294" y="155.4" textLength="11.9" lengthAdjust="spacingAndGlyphs">-14</text>
</g>
<g class="t" text-anchor="middle">
<text x="40" y="176.0" textLength="13.7" lengthAdjust="spacingAndGlyphs">180</text><text x="80" y="176.0" textLength="13.7" lengthAdjust="spacingAndGlyphs">200</text><text x="120.1" y="176.0" textLength="13.7" lengthAdjust="spacingAndGlyphs">220</text><text x="160" y="176.0" textLength="13.7" lengthAdjust="spacingAndGlyphs">240</text><text x="200.3" y="176.0" textLength="13.7" lengthAdjust="spacingAndGlyphs">260</text><text x="240.5" y="176.0" textLength="13.7" lengthAdjust="spacingAndGlyphs">280</text>
<text x="151" y="189.2">[mm]</text>
</g>
<text class="t" text-anchor="middle" transform="translate(6.8,84) rotate(-90)">[μm]</text>
<text class="cap" x="80.7" y="214.3" textLength="132" lengthAdjust="spacing">(a) SCT start at TEP</text>

<!-- ===== Panel B ===== -->
<!--PB-->
<rect x="609.2" y="3" width="13.7" height="164.3" fill="url(#cmapB)" stroke="#777" stroke-width="0.5"/>
<g class="t" text-anchor="end">
<text x="349.5" y="6.0" textLength="13.7" lengthAdjust="spacingAndGlyphs">600</text><text x="349.5" y="42.6" textLength="13.7" lengthAdjust="spacingAndGlyphs">400</text><text x="349.5" y="79.3" textLength="13.7" lengthAdjust="spacingAndGlyphs">200</text><text x="349.5" y="115.8" textLength="4.6" lengthAdjust="spacingAndGlyphs">0</text><text x="349.5" y="152.3" textLength="16.5" lengthAdjust="spacingAndGlyphs">-200</text>
</g>
<g class="t" text-anchor="start">
<text x="626" y="10" textLength="7.3" lengthAdjust="spacingAndGlyphs">-2</text><text x="626" y="32.4" textLength="7.3" lengthAdjust="spacingAndGlyphs">-4</text><text x="626" y="54.5" textLength="7.3" lengthAdjust="spacingAndGlyphs">-6</text><text x="626" y="77" textLength="7.3" lengthAdjust="spacingAndGlyphs">-8</text><text x="626" y="99.2" textLength="11.9" lengthAdjust="spacingAndGlyphs">-10</text><text x="626" y="121.7" textLength="11.9" lengthAdjust="spacingAndGlyphs">-12</text><text x="626" y="143.8" textLength="11.9" lengthAdjust="spacingAndGlyphs">-14</text><text x="626" y="166" textLength="11.9" lengthAdjust="spacingAndGlyphs">-16</text>
</g>
<g class="t" text-anchor="middle">
<text x="362.4" y="180.2" textLength="13.7" lengthAdjust="spacingAndGlyphs">180</text><text x="403.4" y="180.2" textLength="13.7" lengthAdjust="spacingAndGlyphs">200</text><text x="445.2" y="180.2" textLength="13.7" lengthAdjust="spacingAndGlyphs">220</text><text x="486.6" y="180.2" textLength="13.7" lengthAdjust="spacingAndGlyphs">240</text><text x="528" y="180.2" textLength="13.7" lengthAdjust="spacingAndGlyphs">260</text><text x="569.1" y="180.2" textLength="13.7" lengthAdjust="spacingAndGlyphs">280</text>
<text x="477.2" y="194">[mm]</text>
</g>
<text class="t" text-anchor="middle" transform="translate(328,85.5) rotate(-90)">[μm]</text>
<text class="cap" x="372.1" y="214.5" textLength="193.4" lengthAdjust="spacing">(b) SCT start at waveguide core</text>

<!-- ===== Panel C ===== -->
<g class="t" text-anchor="end">
<text x="28" y="242.8" textLength="13.7" lengthAdjust="spacingAndGlyphs">200</text><text x="28" y="263.9" textLength="4.6" lengthAdjust="spacingAndGlyphs">0</text><text x="28" y="284.9" textLength="16.5" lengthAdjust="spacingAndGlyphs">-200</text><text x="28" y="306.1" textLength="16.5" lengthAdjust="spacingAndGlyphs">-400</text><text x="28" y="327.3" textLength="13.7" lengthAdjust="spacingAndGlyphs">200</text><text x="28" y="348.5" textLength="4.6" lengthAdjust="spacingAndGlyphs">0</text><text x="28" y="369.3" textLength="16.5" lengthAdjust="spacingAndGlyphs">-200</text><text x="28" y="390.0" textLength="16.5" lengthAdjust="spacingAndGlyphs">-400</text>
</g>
<g class="t" text-anchor="middle">
<text x="41.5" y="398.9" textLength="13.7" lengthAdjust="spacingAndGlyphs">180</text><text x="80.7" y="398.9" textLength="13.7" lengthAdjust="spacingAndGlyphs">200</text><text x="121.6" y="398.9" textLength="13.7" lengthAdjust="spacingAndGlyphs">220</text><text x="162.3" y="398.9" textLength="13.7" lengthAdjust="spacingAndGlyphs">240</text><text x="202.8" y="398.9" textLength="13.7" lengthAdjust="spacingAndGlyphs">260</text><text x="243" y="398.9" textLength="13.7" lengthAdjust="spacingAndGlyphs">280</text>
<text x="153.3" y="411.7">[mm]</text>
</g>
<text class="t" text-anchor="middle" transform="translate(8.5,313.5) rotate(-90)">[μm]</text>
<text class="cap" x="137" y="431.8" style="font-size:13.8px">(c)</text>

<!-- ===== Panel D ===== -->
<g class="t" text-anchor="end">
<text x="349.6" y="242.8" textLength="13.7" lengthAdjust="spacingAndGlyphs">200</text><text x="349.6" y="263.9" textLength="13.7" lengthAdjust="spacingAndGlyphs">100</text><text x="349.6" y="284.9" textLength="4.6" lengthAdjust="spacingAndGlyphs">0</text><text x="349.6" y="306.1" textLength="16.5" lengthAdjust="spacingAndGlyphs">-100</text><text x="349.6" y="327.8" textLength="16.5" lengthAdjust="spacingAndGlyphs">-200</text><text x="349.6" y="348.5" textLength="16.5" lengthAdjust="spacingAndGlyphs">-300</text><text x="349.6" y="369.7" textLength="16.5" lengthAdjust="spacingAndGlyphs">-400</text><text x="349.6" y="390.7" textLength="16.5" lengthAdjust="spacingAndGlyphs">-500</text>
</g>
<g class="t" text-anchor="middle">
<text x="362.2" y="398.8" textLength="16.0" lengthAdjust="spacingAndGlyphs">1,80</text><text x="402.1" y="398.8" textLength="16.0" lengthAdjust="spacingAndGlyphs">2,00</text><text x="442.8" y="398.8" textLength="13.7" lengthAdjust="spacingAndGlyphs">220</text><text x="483.4" y="398.8" textLength="13.7" lengthAdjust="spacingAndGlyphs">240</text><text x="524.3" y="398.8" textLength="13.7" lengthAdjust="spacingAndGlyphs">260</text><text x="564.7" y="398.8" textLength="13.7" lengthAdjust="spacingAndGlyphs">280</text>
<text x="474.6" y="411.2">[mm]</text>
</g>
<text class="t" text-anchor="middle" transform="translate(329.5,312) rotate(-90)">[μm]</text>
<text class="cap" x="457.5" y="431" style="font-size:13.8px">(d)</text>
</svg>
</body></html>
